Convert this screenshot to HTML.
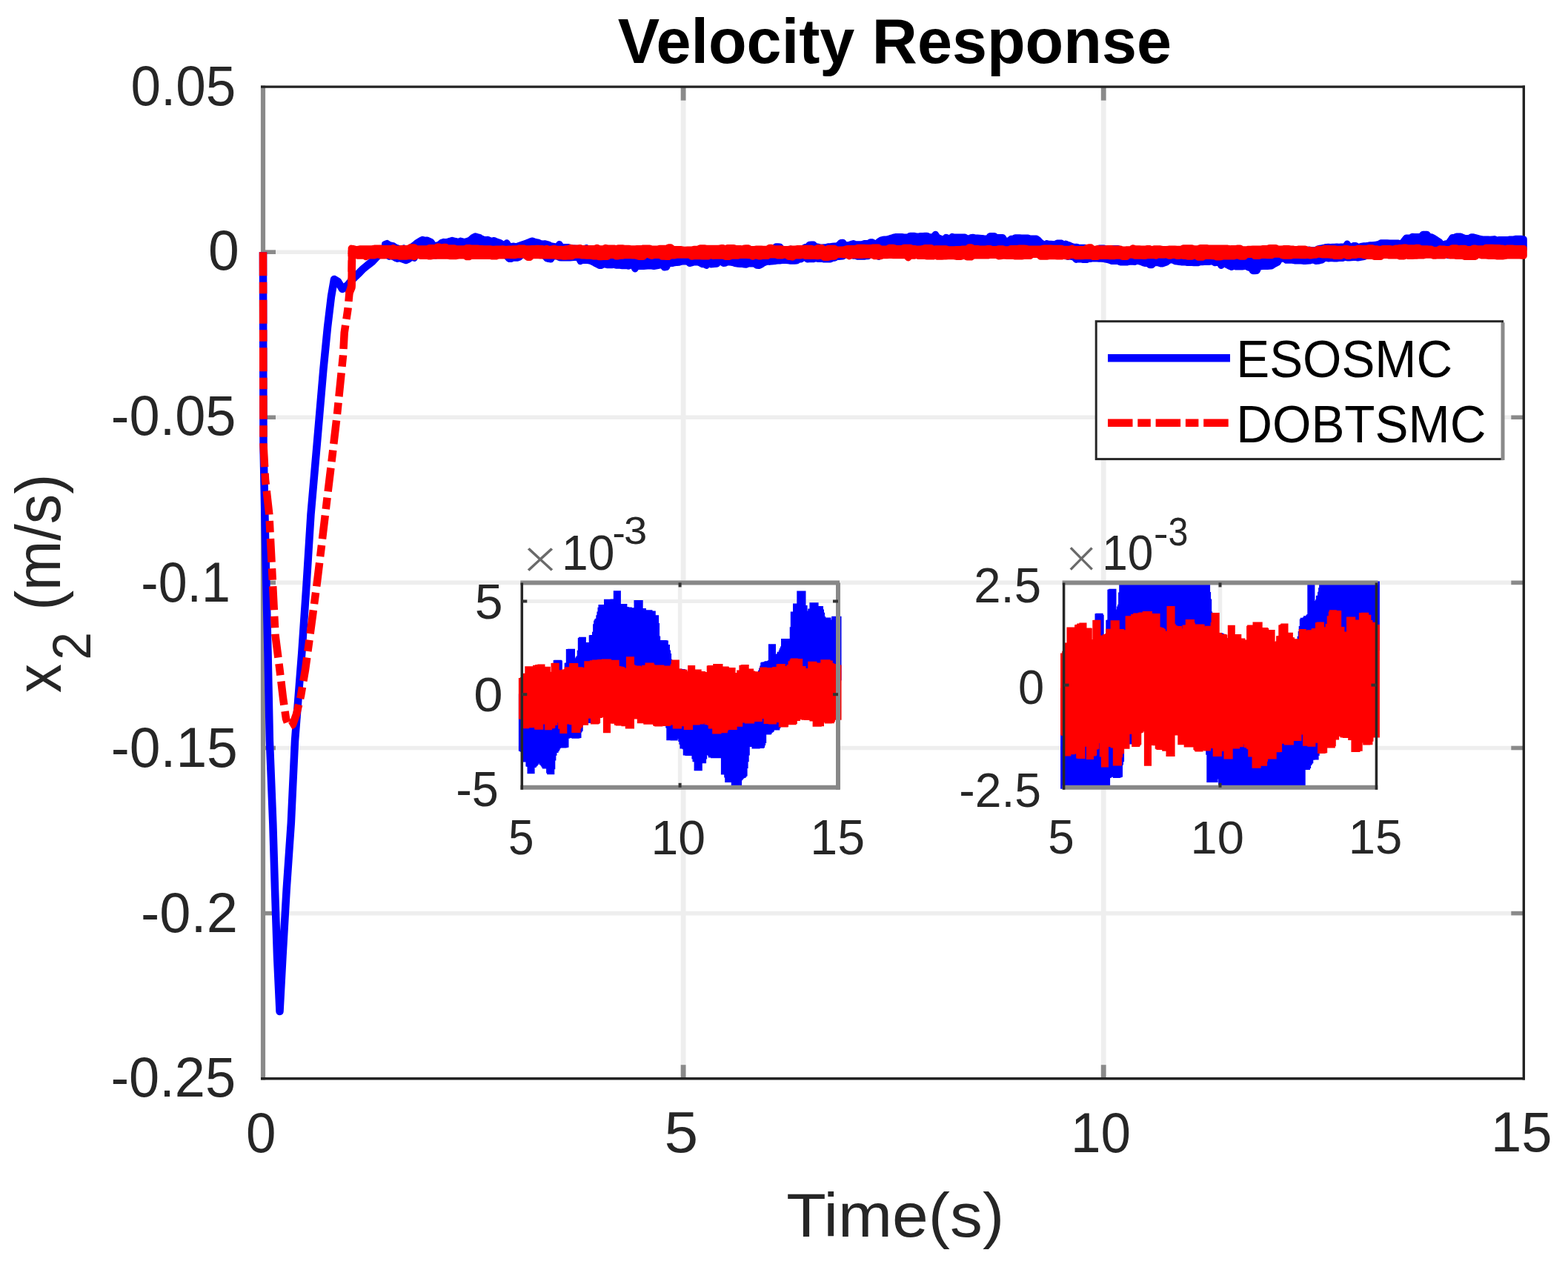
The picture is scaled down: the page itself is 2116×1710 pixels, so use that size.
<!DOCTYPE html>
<html><head><meta charset="utf-8"><title>Velocity Response</title><style>html,body{margin:0;padding:0;background:#fff;width:2116px;height:1710px;overflow:hidden}svg{display:block}</style></head><body>
<svg width="2116" height="1710" viewBox="0 0 2116 1710" font-family="'Liberation Sans', Arial, sans-serif">
<rect x="0" y="0" width="2116" height="1710" fill="#ffffff"/>
<defs>
<clipPath id="c1"><rect x="699.3" y="784.4" width="436.70000000000005" height="280.4"/></clipPath>
<clipPath id="c2"><rect x="1430.6" y="784.4" width="431.8000000000002" height="280.4"/></clipPath>
</defs>
<line x1="922.1" y1="117.1" x2="922.1" y2="1455.7" stroke="#eeeeee" stroke-width="6.8"/>
<line x1="1489.2" y1="117.1" x2="1489.2" y2="1455.7" stroke="#eeeeee" stroke-width="6.8"/>
<line x1="355.0" y1="340.2" x2="2056.3" y2="340.2" stroke="#eeeeee" stroke-width="5.6"/>
<line x1="355.0" y1="563.3" x2="2056.3" y2="563.3" stroke="#eeeeee" stroke-width="5.6"/>
<line x1="355.0" y1="786.4" x2="2056.3" y2="786.4" stroke="#eeeeee" stroke-width="5.6"/>
<line x1="355.0" y1="1009.5" x2="2056.3" y2="1009.5" stroke="#eeeeee" stroke-width="5.6"/>
<line x1="355.0" y1="1232.6" x2="2056.3" y2="1232.6" stroke="#eeeeee" stroke-width="5.6"/>
<line x1="922.1" y1="1455.7" x2="922.1" y2="1437.2" stroke="#8a8a8a" stroke-width="6.8"/>
<line x1="922.1" y1="117.1" x2="922.1" y2="135.6" stroke="#8a8a8a" stroke-width="6.8"/>
<line x1="1489.2" y1="1455.7" x2="1489.2" y2="1437.2" stroke="#8a8a8a" stroke-width="6.8"/>
<line x1="1489.2" y1="117.1" x2="1489.2" y2="135.6" stroke="#8a8a8a" stroke-width="6.8"/>
<line x1="355.0" y1="340.2" x2="372.0" y2="340.2" stroke="#8a8a8a" stroke-width="5.6"/>
<line x1="2056.3" y1="340.2" x2="2039.3" y2="340.2" stroke="#8a8a8a" stroke-width="5.6"/>
<line x1="355.0" y1="563.3" x2="372.0" y2="563.3" stroke="#8a8a8a" stroke-width="5.6"/>
<line x1="2056.3" y1="563.3" x2="2039.3" y2="563.3" stroke="#8a8a8a" stroke-width="5.6"/>
<line x1="355.0" y1="786.4" x2="372.0" y2="786.4" stroke="#8a8a8a" stroke-width="5.6"/>
<line x1="2056.3" y1="786.4" x2="2039.3" y2="786.4" stroke="#8a8a8a" stroke-width="5.6"/>
<line x1="355.0" y1="1009.5" x2="372.0" y2="1009.5" stroke="#8a8a8a" stroke-width="5.6"/>
<line x1="2056.3" y1="1009.5" x2="2039.3" y2="1009.5" stroke="#8a8a8a" stroke-width="5.6"/>
<line x1="355.0" y1="1232.6" x2="372.0" y2="1232.6" stroke="#8a8a8a" stroke-width="5.6"/>
<line x1="2056.3" y1="1232.6" x2="2039.3" y2="1232.6" stroke="#8a8a8a" stroke-width="5.6"/>
<line x1="355.0" y1="115.4" x2="355.0" y2="1457.4" stroke="#8a8a8a" stroke-width="6.2"/>
<line x1="352.0" y1="117.1" x2="2058.0" y2="117.1" stroke="#222222" stroke-width="3.4"/>
<line x1="352.0" y1="1455.7" x2="2058.0" y2="1455.7" stroke="#222222" stroke-width="3.6"/>
<line x1="2056.3" y1="115.4" x2="2056.3" y2="1457.4" stroke="#222222" stroke-width="3.4"/>
<path d="M355.0,340.3L355.5,600.0L357.5,700.0L359.3,787.0L361.5,880.0L363.9,1000.0L368.3,1111.0L371.0,1200.0L374.0,1290.0L377.5,1365.0L381.5,1290.0L386.7,1200.0L392.8,1111.0L398.0,1000.0L407.3,881.0L413.7,787.0L419.5,694.0L427.7,600.0L436.4,498.5L442.0,441.8L447.0,400.0L451.0,377.0L456.0,380.0L462.0,390.0L469.0,385.0L476.0,376.6L483.0,370.0L489.0,363.8L496.0,358.0L503.0,352.5L512.0,343.0L521.5,331.0" fill="none" stroke="#0000ff" stroke-width="10.5" stroke-linejoin="round"/>
<path d="M519.5,329.4L522.3,328.4L525.1,330.3L528.0,331.3L530.8,331.8L533.6,333.7L536.5,334.7L539.3,335.7L542.1,336.7L545.0,334.8L547.8,337.7L550.6,336.1L553.5,334.3L556.3,332.5L559.2,330.6L562.0,328.1L564.8,326.3L567.7,324.4L570.5,323.3L573.3,324.5L576.2,323.9L579.0,325.1L581.8,326.3L584.7,330.5L587.5,331.7L590.3,330.8L593.2,329.6L596.0,327.2L598.9,326.3L601.7,326.9L604.5,326.0L607.4,325.2L610.2,324.3L613.0,325.0L615.9,325.7L618.7,326.8L621.5,325.1L624.4,325.8L627.2,326.5L630.0,325.5L632.9,324.6L635.7,322.7L638.5,320.2L641.4,318.8L644.2,319.6L647.1,320.3L649.9,322.2L652.7,323.0L655.6,323.7L658.4,323.3L661.2,324.6L664.1,325.3L666.9,324.4L669.7,325.9L672.6,326.8L675.4,327.8L678.2,329.5L681.1,330.5L683.9,327.8L686.8,332.2L689.6,332.5L692.4,332.1L695.3,332.4L698.1,332.3L700.9,331.3L703.8,330.2L706.6,329.2L709.4,328.3L712.3,327.3L715.1,325.9L717.9,324.9L720.8,325.8L723.6,326.5L726.5,327.2L729.3,328.5L732.1,329.1L735.0,328.7L737.8,329.4L740.6,330.1L743.5,331.8L746.3,332.2L749.1,332.6L752.0,333.0L754.8,329.4L757.6,333.4L760.5,333.4L763.3,333.4L766.1,333.4L769.0,334.1L771.8,335.0L774.7,335.0L777.5,335.2L780.3,335.3L783.2,335.3L786.0,335.5L788.8,335.6L791.7,334.6L794.5,336.1L797.3,337.7L800.2,339.2L803.0,340.8L805.8,342.3L808.7,343.8L811.5,344.6L814.4,344.6L817.2,343.5L820.0,343.5L822.9,343.5L825.7,343.5L828.5,343.5L831.4,343.5L834.2,343.5L837.0,342.9L839.9,342.9L842.7,343.0L845.5,338.6L848.4,338.6L851.2,342.9L854.0,343.1L856.9,344.7L859.7,344.9L862.6,345.1L865.4,343.8L868.2,343.8L871.1,342.4L873.9,342.4L876.7,344.8L879.6,344.8L882.4,344.8L885.2,344.2L888.1,342.7L890.9,342.4L893.7,341.9L896.6,341.3L899.4,340.8L902.3,340.6L905.1,338.9L907.9,338.7L910.8,338.6L913.6,341.5L916.4,341.3L919.3,341.8L922.1,340.9L924.9,341.3L927.8,342.0L930.6,342.1L933.4,342.2L936.3,342.2L939.1,341.5L941.9,341.6L944.8,341.7L947.6,341.8L950.5,342.0L953.3,341.6L956.1,341.7L959.0,341.5L961.8,338.2L964.6,341.6L967.5,341.4L970.3,341.2L973.1,339.9L976.0,338.8L978.8,338.6L981.6,338.9L984.5,339.2L987.3,339.7L990.2,340.0L993.0,340.9L995.8,341.2L998.7,341.1L1001.5,341.4L1004.3,341.7L1007.2,342.0L1010.0,343.4L1012.8,343.7L1015.7,341.4L1018.5,343.7L1021.3,345.5L1024.2,344.8L1027.0,344.1L1029.8,343.0L1032.7,340.9L1035.5,339.9L1038.4,339.6L1041.2,339.3L1044.0,338.9L1046.9,332.8L1049.7,332.7L1052.5,332.9L1055.4,337.0L1058.2,336.6L1061.0,336.6L1063.9,336.6L1066.7,336.1L1069.5,337.1L1072.4,337.1L1075.2,337.0L1078.1,337.0L1080.9,337.1L1083.7,335.3L1086.6,333.5L1089.4,333.4L1092.2,330.2L1095.1,330.1L1097.9,330.1L1100.7,333.0L1103.6,333.0L1106.4,333.9L1109.2,333.9L1112.1,333.8L1114.9,333.8L1117.7,332.7L1120.6,332.7L1123.4,332.3L1126.3,332.0L1129.1,331.8L1131.9,330.5L1134.8,327.5L1137.6,327.2L1140.4,331.0L1143.3,330.8L1146.1,330.5L1148.9,329.3L1151.8,328.5L1154.6,329.8L1157.4,329.8L1160.3,329.7L1163.1,329.7L1166.0,328.6L1168.8,328.6L1171.6,328.6L1174.5,326.8L1177.3,326.8L1180.1,328.5L1183.0,328.5L1185.8,326.0L1188.6,324.1L1191.5,323.3L1194.3,322.9L1197.1,322.8L1200.0,322.0L1202.8,321.2L1205.7,320.2L1208.5,319.5L1211.3,319.5L1214.2,319.5L1217.0,319.5L1219.8,319.9L1222.7,319.9L1225.5,319.9L1228.3,318.2L1231.2,318.2L1234.0,318.2L1236.8,319.1L1239.7,319.1L1242.5,318.5L1245.3,318.4L1248.2,318.3L1251.0,318.2L1253.9,319.8L1256.7,319.7L1259.5,319.6L1262.4,316.2L1265.2,320.3L1268.0,321.4L1270.9,322.6L1273.7,323.7L1276.5,320.2L1279.4,321.3L1282.2,321.8L1285.0,319.3L1287.9,320.0L1290.7,320.0L1293.6,320.1L1296.4,320.1L1299.2,320.1L1302.1,320.1L1304.9,321.9L1307.7,321.9L1310.6,320.5L1313.4,320.2L1316.2,321.1L1319.1,321.1L1321.9,321.3L1324.7,321.5L1327.6,321.8L1330.4,322.0L1333.2,322.0L1336.1,318.4L1338.9,318.4L1341.8,318.4L1344.6,320.4L1347.4,320.4L1350.3,320.4L1353.1,320.4L1355.9,324.5L1358.8,327.2L1361.6,324.7L1364.4,322.3L1367.3,322.3L1370.1,320.8L1372.9,320.8L1375.8,320.8L1378.6,321.0L1381.5,321.0L1384.3,321.0L1387.1,321.0L1390.0,322.0L1392.8,322.0L1395.6,322.0L1398.5,322.0L1401.3,323.9L1404.1,327.0L1407.0,328.9L1409.8,330.8L1412.6,328.5L1415.5,329.3L1418.3,329.3L1421.1,329.4L1424.0,329.4L1426.8,328.0L1429.7,328.0L1432.5,328.1L1435.3,331.1L1438.2,329.1L1441.0,330.4L1443.8,331.2L1446.7,332.6L1449.5,333.4L1452.3,333.2L1455.2,333.9L1458.0,334.3L1460.8,334.3L1463.7,334.3L1466.5,334.8L1469.4,334.9L1472.2,334.9L1475.0,336.5L1477.9,336.5L1480.7,336.6L1483.5,334.9L1486.4,334.9L1489.2,335.0L1492.0,335.6L1494.9,336.0L1497.7,336.7L1500.5,335.4L1503.4,335.5L1506.2,335.5L1509.0,335.5L1511.9,338.8L1514.7,338.8L1517.6,338.9L1520.4,337.6L1523.2,337.6L1526.1,337.7L1528.9,337.7L1531.7,339.0L1534.6,339.1L1537.4,339.7L1540.2,340.4L1543.1,341.4L1545.9,342.0L1548.7,342.0L1551.6,342.0L1554.4,342.9L1557.3,342.9L1560.1,342.9L1562.9,342.9L1565.8,340.9L1568.6,340.9L1571.4,339.9L1574.3,338.9L1577.1,337.5L1579.9,336.5L1582.8,338.0L1585.6,338.4L1588.4,338.8L1591.3,337.7L1594.1,338.1L1596.9,339.5L1599.8,339.9L1602.6,340.4L1605.5,339.3L1608.3,339.3L1611.1,339.3L1614.0,340.7L1616.8,340.7L1619.6,340.7L1622.5,340.7L1625.3,340.7L1628.1,340.7L1631.0,340.4L1633.8,340.4L1636.6,341.2L1639.5,341.2L1642.3,341.2L1645.2,341.2L1648.0,341.1L1650.8,342.9L1653.7,344.0L1656.5,343.0L1659.3,344.3L1662.2,344.3L1665.0,344.3L1667.8,344.3L1670.7,346.9L1673.5,346.9L1676.3,346.9L1679.2,346.9L1682.0,345.6L1684.8,345.6L1687.7,345.6L1690.5,341.2L1693.4,341.2L1696.2,341.0L1699.0,345.9L1701.9,345.7L1704.7,345.3L1707.5,345.1L1710.4,343.9L1713.2,343.7L1716.0,343.5L1718.9,341.9L1721.7,340.8L1724.5,339.7L1727.4,338.2L1730.2,337.5L1733.1,337.5L1735.9,337.5L1738.7,337.9L1741.6,338.2L1744.4,338.2L1747.2,338.2L1750.1,338.2L1752.9,338.4L1755.7,338.4L1758.6,339.5L1761.4,339.5L1764.2,337.2L1767.1,337.1L1769.9,337.8L1772.8,337.7L1775.6,337.5L1778.4,335.8L1781.3,335.2L1784.1,334.7L1786.9,334.1L1789.8,333.4L1792.6,333.2L1795.4,333.5L1798.3,333.3L1801.1,333.2L1803.9,333.0L1806.8,333.2L1809.6,333.1L1812.4,333.0L1815.3,332.8L1818.1,329.0L1821.0,333.4L1823.8,333.3L1826.6,331.5L1829.5,331.4L1832.3,333.3L1835.1,332.9L1838.0,332.2L1840.8,331.7L1843.6,331.7L1846.5,331.3L1849.3,330.8L1852.1,330.8L1855.0,330.4L1857.8,330.0L1860.7,329.5L1863.5,327.7L1866.3,327.7L1869.2,327.7L1872.0,327.7L1874.8,327.9L1877.7,328.0L1880.5,328.0L1883.3,328.0L1886.2,328.0L1889.0,328.6L1891.8,328.6L1894.7,324.8L1897.5,321.1L1900.3,321.1L1903.2,321.1L1906.0,319.2L1908.9,319.4L1911.7,319.4L1914.5,319.4L1917.4,319.4L1920.2,316.2L1923.0,316.2L1925.9,316.2L1928.7,319.7L1931.5,319.7L1934.4,321.0L1937.2,322.9L1940.0,324.7L1942.9,326.6L1945.7,329.9L1948.6,329.9L1951.4,328.7L1954.2,328.7L1957.1,324.7L1959.9,320.4L1962.7,320.4L1965.6,319.0L1968.4,319.0L1971.2,319.0L1974.1,320.3L1976.9,321.5L1979.7,321.5L1982.6,321.5L1985.4,319.8L1988.2,319.8L1991.1,320.6L1993.9,321.4L1996.8,322.3L1999.6,322.7L2002.4,323.1L2005.3,323.1L2008.1,323.1L2010.9,323.3L2013.8,322.9L2016.6,322.6L2019.4,324.0L2022.3,323.6L2025.1,323.6L2027.9,323.6L2030.8,323.6L2033.6,323.6L2036.5,323.1L2039.3,323.1L2042.1,323.1L2045.0,322.3L2047.8,322.3L2050.6,322.3L2053.5,322.3L2056.3,322.9L2056.3,336.1L2053.5,336.1L2050.6,336.1L2047.8,335.7L2045.0,335.7L2042.1,335.7L2039.3,335.8L2036.5,335.8L2033.6,335.8L2030.8,336.5L2027.9,336.5L2025.1,336.5L2022.3,337.4L2019.4,337.7L2016.6,338.0L2013.8,342.9L2010.9,343.2L2008.1,343.2L2005.3,339.0L2002.4,338.7L1999.6,338.7L1996.8,337.9L1993.9,336.0L1991.1,335.2L1988.2,334.4L1985.4,335.2L1982.6,335.2L1979.7,338.3L1976.9,338.3L1974.1,335.3L1971.2,335.3L1968.4,336.6L1965.6,335.6L1962.7,335.6L1959.9,335.6L1957.1,339.6L1954.2,344.7L1951.4,342.0L1948.6,342.0L1945.7,342.3L1942.9,340.8L1940.0,338.8L1937.2,337.0L1934.4,335.1L1931.5,333.0L1928.7,333.0L1925.9,333.2L1923.0,333.4L1920.2,333.4L1917.4,334.9L1914.5,332.9L1911.7,332.9L1908.9,332.9L1906.0,332.9L1903.2,333.8L1900.3,333.8L1897.5,333.9L1894.7,337.6L1891.8,342.1L1889.0,342.1L1886.2,342.1L1883.3,342.1L1880.5,342.2L1877.7,342.2L1874.8,342.2L1872.0,341.3L1869.2,341.3L1866.3,341.3L1863.5,341.3L1860.7,341.1L1857.8,342.0L1855.0,342.4L1852.1,342.9L1849.3,344.6L1846.5,345.1L1843.6,345.5L1840.8,346.6L1838.0,347.1L1835.1,347.5L1832.3,348.0L1829.5,347.4L1826.6,347.6L1823.8,347.8L1821.0,347.9L1818.1,348.0L1815.3,347.3L1812.4,348.4L1809.6,348.5L1806.8,348.6L1803.9,348.9L1801.1,349.1L1798.3,348.7L1795.4,348.8L1792.6,349.0L1789.8,348.2L1786.9,348.8L1784.1,351.1L1781.3,351.7L1778.4,352.2L1775.6,352.4L1772.8,351.0L1769.9,351.2L1767.1,352.1L1764.2,352.3L1761.4,352.4L1758.6,352.4L1755.7,352.0L1752.9,352.0L1750.1,352.0L1747.2,352.0L1744.4,351.3L1741.6,351.3L1738.7,351.3L1735.9,351.3L1733.1,349.2L1730.2,349.2L1727.4,349.2L1724.5,354.0L1721.7,355.6L1718.9,357.1L1716.0,359.0L1713.2,359.2L1710.4,359.4L1707.5,359.3L1704.7,359.6L1701.9,359.8L1699.0,360.0L1696.2,365.5L1693.4,365.7L1690.5,365.7L1687.7,361.2L1684.8,361.2L1682.0,359.6L1679.2,359.6L1676.3,360.0L1673.5,360.0L1670.7,360.0L1667.8,360.0L1665.0,359.2L1662.2,360.5L1659.3,359.3L1656.5,358.0L1653.7,356.6L1650.8,355.3L1648.0,358.6L1645.2,354.2L1642.3,354.2L1639.5,354.7L1636.6,353.1L1633.8,353.1L1631.0,353.6L1628.1,353.6L1625.3,353.6L1622.5,353.8L1619.6,353.8L1616.8,354.7L1614.0,354.7L1611.1,354.7L1608.3,354.6L1605.5,354.6L1602.6,354.6L1599.8,354.1L1596.9,353.7L1594.1,353.9L1591.3,353.5L1588.4,353.1L1585.6,352.7L1582.8,351.1L1579.9,350.7L1577.1,351.7L1574.3,353.9L1571.4,354.9L1568.6,355.9L1565.8,355.9L1562.9,354.8L1560.1,354.8L1557.3,354.8L1554.4,357.7L1551.6,357.7L1548.7,355.6L1545.9,355.6L1543.1,354.9L1540.2,353.6L1537.4,352.9L1534.6,352.2L1531.7,353.4L1528.9,353.3L1526.1,353.3L1523.2,353.3L1520.4,354.1L1517.6,354.1L1514.7,354.0L1511.9,354.0L1509.0,352.6L1506.2,352.4L1503.4,352.4L1500.5,352.4L1497.7,351.4L1494.9,350.7L1492.0,350.1L1489.2,349.4L1486.4,349.3L1483.5,349.3L1480.7,349.0L1477.9,348.9L1475.0,348.9L1472.2,349.4L1469.4,349.3L1466.5,350.5L1463.7,350.4L1460.8,350.4L1458.0,349.9L1455.2,349.7L1452.3,350.4L1449.5,347.4L1446.7,346.7L1443.8,345.9L1441.0,346.5L1438.2,345.7L1435.3,345.6L1432.5,344.3L1429.7,344.3L1426.8,343.7L1424.0,343.6L1421.1,344.4L1418.3,344.8L1415.5,344.7L1412.6,344.7L1409.8,344.2L1407.0,342.9L1404.1,341.0L1401.3,339.1L1398.5,337.2L1395.6,335.2L1392.8,335.2L1390.0,335.2L1387.1,337.7L1384.3,335.8L1381.5,335.7L1378.6,335.1L1375.8,335.1L1372.9,335.1L1370.1,339.0L1367.3,335.0L1364.4,335.0L1361.6,337.4L1358.8,339.9L1355.9,339.9L1353.1,337.5L1350.3,337.5L1347.4,335.8L1344.6,335.8L1341.8,340.2L1338.9,340.2L1336.1,340.2L1333.2,336.5L1330.4,336.5L1327.6,336.3L1324.7,335.9L1321.9,336.5L1319.1,336.3L1316.2,336.3L1313.4,335.1L1310.6,335.1L1307.7,335.8L1304.9,335.8L1302.1,335.8L1299.2,335.8L1296.4,335.0L1293.6,335.0L1290.7,335.0L1287.9,334.9L1285.0,334.9L1282.2,337.4L1279.4,340.0L1276.5,339.3L1273.7,338.1L1270.9,337.0L1268.0,340.9L1265.2,339.8L1262.4,338.7L1259.5,333.6L1256.7,333.7L1253.9,333.2L1251.0,333.3L1248.2,332.5L1245.3,332.6L1242.5,332.7L1239.7,334.1L1236.8,334.1L1234.0,334.1L1231.2,334.1L1228.3,334.6L1225.5,334.5L1222.7,334.5L1219.8,334.8L1217.0,334.0L1214.2,334.0L1211.3,334.8L1208.5,334.8L1205.7,334.8L1202.8,335.6L1200.0,337.6L1197.1,340.5L1194.3,341.3L1191.5,343.1L1188.6,343.9L1185.8,346.4L1183.0,344.6L1180.1,343.4L1177.3,343.4L1174.5,343.4L1171.6,345.7L1168.8,345.7L1166.0,346.2L1163.1,346.2L1160.3,346.2L1157.4,346.3L1154.6,345.2L1151.8,345.2L1148.9,343.7L1146.1,343.9L1143.3,344.1L1140.4,344.3L1137.6,346.0L1134.8,346.2L1131.9,346.4L1129.1,346.7L1126.3,348.2L1123.4,348.5L1120.6,349.9L1117.7,349.9L1114.9,349.9L1112.1,350.0L1109.2,349.4L1106.4,349.5L1103.6,349.5L1100.7,348.8L1097.9,349.7L1095.1,349.8L1092.2,349.8L1089.4,349.9L1086.6,346.4L1083.7,348.1L1080.9,349.9L1078.1,350.0L1075.2,352.1L1072.4,352.2L1069.5,352.2L1066.7,352.2L1063.9,351.9L1061.0,351.5L1058.2,351.6L1055.4,351.6L1052.5,351.9L1049.7,352.0L1046.9,352.4L1044.0,352.7L1041.2,353.1L1038.4,353.4L1035.5,352.8L1032.7,354.1L1029.8,355.3L1027.0,357.4L1024.2,358.6L1021.3,358.3L1018.5,356.3L1015.7,356.0L1012.8,356.1L1010.0,355.8L1007.2,357.2L1004.3,356.9L1001.5,356.6L998.7,356.4L995.8,356.2L993.0,355.9L990.2,355.0L987.3,354.3L984.5,354.0L981.6,353.8L978.8,355.2L976.0,355.4L973.1,352.9L970.3,353.1L967.5,356.3L964.6,356.5L961.8,356.7L959.0,356.9L956.1,354.9L953.3,358.4L950.5,356.8L947.6,356.7L944.8,355.1L941.9,354.1L939.1,354.0L936.3,354.0L933.4,354.9L930.6,355.6L927.8,353.2L924.9,353.1L922.1,353.0L919.3,353.2L916.4,354.2L913.6,354.4L910.8,354.7L907.9,355.4L905.1,355.6L902.3,355.7L899.4,360.6L896.6,361.1L893.7,357.4L890.9,357.9L888.1,358.5L885.2,359.0L882.4,359.5L879.6,359.0L876.7,359.0L873.9,359.0L871.1,359.2L868.2,359.6L865.4,359.6L862.6,359.4L859.7,359.2L856.9,363.0L854.0,357.5L851.2,357.9L848.4,359.3L845.5,358.7L842.7,358.7L839.9,358.7L837.0,358.2L834.2,358.2L831.4,358.2L828.5,357.4L825.7,357.8L822.9,357.8L820.0,357.8L817.2,357.2L814.4,356.5L811.5,358.4L808.7,358.4L805.8,356.8L803.0,355.4L800.2,353.9L797.3,352.4L794.5,351.8L791.7,351.6L788.8,351.5L786.0,351.3L783.2,352.6L780.3,347.1L777.5,347.6L774.7,347.5L771.8,347.8L769.0,348.0L766.1,348.0L763.3,348.0L760.5,348.1L757.6,348.1L754.8,347.7L752.0,346.1L749.1,345.7L746.3,345.3L743.5,350.0L740.6,349.6L737.8,348.9L735.0,345.7L732.1,342.5L729.3,341.7L726.5,341.6L723.6,340.8L720.8,340.1L717.9,339.4L715.1,340.7L712.3,341.7L709.4,342.7L706.6,343.7L703.8,344.4L700.9,347.2L698.1,348.2L695.3,348.2L692.4,348.0L689.6,349.6L686.8,349.4L683.9,346.1L681.1,343.8L678.2,342.9L675.4,342.0L672.6,339.7L669.7,338.8L666.9,337.9L664.1,336.6L661.2,335.9L658.4,335.5L655.6,338.5L652.7,337.8L649.9,334.2L647.1,333.5L644.2,334.5L641.4,333.7L638.5,334.7L635.7,336.6L632.9,338.5L630.0,340.5L627.2,342.2L624.4,341.5L621.5,340.8L618.7,340.1L615.9,340.7L613.0,340.0L610.2,339.2L607.4,339.2L604.5,340.2L601.7,341.1L598.9,342.0L596.0,343.4L593.2,344.3L590.3,344.2L587.5,345.1L584.7,343.9L581.8,342.7L579.0,341.2L576.2,340.0L573.3,338.7L570.5,336.9L567.7,338.7L564.8,340.5L562.0,342.3L559.2,348.5L556.3,347.0L553.5,348.8L550.6,350.6L547.8,351.7L545.0,350.7L542.1,349.7L539.3,348.7L536.5,349.4L533.6,348.4L530.8,346.7L528.0,345.7L525.1,346.4L522.3,344.5L519.5,344.1Z" fill="#0000ff" stroke="#0000ff" stroke-width="9" stroke-linejoin="round"/>
<path d="M355.0,340.3L355.5,600.0L358.0,647.0L363.3,694.0L368.0,787.0L371.5,857.0L377.5,904.0L382.0,942.0L386.0,970.0L390.0,981.0L395.0,978.0L400.0,964.0L406.0,939.0L412.0,904.0L418.4,857.0L427.8,787.0L433.5,740.0L441.8,670.0L448.8,612.0L455.0,559.0L463.0,480.0L464.7,449.0L469.5,417.0L471.5,395.0L474.5,385.0L475.0,341.0" fill="none" stroke="#ff0000" stroke-width="10.5" stroke-dasharray="32 8.5 15.5 8.5" stroke-linejoin="round"/>
<path d="M470.5,397L474.5,388L475,338" fill="none" stroke="#ff0000" stroke-width="10.5" stroke-linejoin="round"/>
<path d="M474.1,335.1L476.9,335.5L479.8,336.4L482.6,336.4L485.4,335.8L488.3,335.8L491.1,335.8L493.9,335.8L496.8,335.7L499.6,335.7L502.4,335.7L505.3,335.0L508.1,335.0L511.0,335.0L513.8,335.0L516.6,335.6L519.5,335.6L522.3,335.6L525.1,335.6L528.0,335.5L530.8,334.6L533.6,336.0L536.5,336.0L539.3,336.0L542.1,335.5L545.0,335.5L547.8,335.5L550.6,335.5L553.5,333.7L556.3,333.7L559.2,333.7L562.0,335.7L564.8,335.8L567.7,335.8L570.5,335.8L573.3,335.8L576.2,335.8L579.0,334.6L581.8,334.6L584.7,334.6L587.5,334.6L590.3,332.9L593.2,332.9L596.0,334.3L598.9,333.2L601.7,333.2L604.5,335.3L607.4,334.7L610.2,334.7L613.0,334.7L615.9,335.8L618.7,335.8L621.5,335.8L624.4,335.8L627.2,335.6L630.0,334.5L632.9,334.5L635.7,335.0L638.5,335.0L641.4,334.9L644.2,334.9L647.1,335.4L649.9,335.4L652.7,335.8L655.6,335.8L658.4,335.8L661.2,335.8L664.1,336.3L666.9,336.3L669.7,336.0L672.6,336.0L675.4,336.0L678.2,335.8L681.1,336.3L683.9,336.3L686.8,336.1L689.6,336.1L692.4,335.8L695.3,335.8L698.1,335.8L700.9,334.9L703.8,334.9L706.6,334.9L709.4,335.8L712.3,335.8L715.1,335.8L717.9,335.6L720.8,335.6L723.6,335.3L726.5,335.3L729.3,335.6L732.1,335.6L735.0,336.4L737.8,335.3L740.6,336.2L743.5,336.2L746.3,335.6L749.1,335.6L752.0,336.2L754.8,336.2L757.6,336.2L760.5,336.6L763.3,335.8L766.1,335.8L769.0,334.6L771.8,334.6L774.7,335.1L777.5,335.1L780.3,335.0L783.2,334.5L786.0,335.8L788.8,335.4L791.7,335.4L794.5,335.4L797.3,335.4L800.2,335.6L803.0,335.2L805.8,334.2L808.7,335.8L811.5,335.8L814.4,335.8L817.2,334.3L820.0,334.9L822.9,334.9L825.7,334.9L828.5,334.9L831.4,335.6L834.2,334.8L837.0,334.8L839.9,334.8L842.7,335.2L845.5,335.2L848.4,335.2L851.2,335.7L854.0,335.7L856.9,335.7L859.7,335.6L862.6,335.6L865.4,335.6L868.2,334.9L871.1,334.9L873.9,334.9L876.7,334.9L879.6,335.9L882.4,335.9L885.2,335.9L888.1,335.9L890.9,335.2L893.7,335.2L896.6,335.2L899.4,335.2L902.3,333.8L905.1,333.8L907.9,336.1L910.8,336.4L913.6,336.5L916.4,336.5L919.3,336.5L922.1,337.2L924.9,337.2L927.8,337.1L930.6,337.1L933.4,337.1L936.3,336.3L939.1,336.3L941.9,336.3L944.8,334.8L947.6,334.8L950.5,334.8L953.3,335.2L956.1,335.2L959.0,335.2L961.8,335.2L964.6,335.2L967.5,335.2L970.3,335.2L973.1,334.6L976.0,334.6L978.8,335.8L981.6,334.5L984.5,334.5L987.3,334.5L990.2,334.4L993.0,335.4L995.8,335.4L998.7,335.4L1001.5,336.1L1004.3,335.1L1007.2,334.8L1010.0,334.8L1012.8,336.5L1015.7,336.5L1018.5,336.5L1021.3,335.9L1024.2,335.9L1027.0,335.9L1029.8,336.2L1032.7,336.2L1035.5,336.2L1038.4,334.3L1041.2,334.3L1044.0,335.7L1046.9,335.7L1049.7,335.7L1052.5,335.7L1055.4,336.0L1058.2,336.4L1061.0,336.4L1063.9,336.4L1066.7,335.8L1069.5,335.9L1072.4,335.9L1075.2,335.6L1078.1,335.6L1080.9,335.6L1083.7,335.6L1086.6,335.3L1089.4,335.3L1092.2,335.3L1095.1,335.3L1097.9,336.2L1100.7,336.2L1103.6,334.5L1106.4,334.5L1109.2,334.5L1112.1,336.8L1114.9,336.7L1117.7,335.3L1120.6,335.3L1123.4,335.3L1126.3,335.3L1129.1,337.0L1131.9,337.0L1134.8,337.0L1137.6,337.0L1140.4,336.4L1143.3,335.5L1146.1,335.5L1148.9,335.5L1151.8,335.5L1154.6,335.6L1157.4,334.2L1160.3,334.2L1163.1,334.2L1166.0,334.2L1168.8,334.6L1171.6,334.6L1174.5,334.6L1177.3,334.1L1180.1,334.1L1183.0,334.1L1185.8,334.1L1188.6,336.0L1191.5,336.0L1194.3,336.0L1197.1,336.0L1200.0,334.3L1202.8,334.3L1205.7,334.3L1208.5,335.1L1211.3,335.6L1214.2,335.6L1217.0,335.6L1219.8,334.2L1222.7,334.2L1225.5,334.2L1228.3,334.2L1231.2,335.4L1234.0,335.4L1236.8,336.2L1239.7,336.0L1242.5,336.0L1245.3,335.5L1248.2,334.5L1251.0,334.5L1253.9,334.5L1256.7,334.5L1259.5,336.7L1262.4,335.7L1265.2,335.7L1268.0,335.7L1270.9,335.7L1273.7,335.7L1276.5,335.7L1279.4,336.8L1282.2,336.8L1285.0,336.8L1287.9,336.8L1290.7,336.5L1293.6,336.5L1296.4,336.5L1299.2,336.0L1302.1,336.0L1304.9,336.0L1307.7,333.7L1310.6,333.7L1313.4,335.3L1316.2,335.5L1319.1,335.5L1321.9,336.0L1324.7,336.0L1327.6,336.0L1330.4,336.0L1333.2,335.5L1336.1,335.5L1338.9,336.6L1341.8,336.6L1344.6,336.6L1347.4,335.7L1350.3,335.7L1353.1,335.7L1355.9,336.7L1358.8,336.7L1361.6,336.7L1364.4,335.4L1367.3,335.4L1370.1,335.4L1372.9,335.4L1375.8,334.9L1378.6,334.9L1381.5,334.9L1384.3,335.2L1387.1,335.9L1390.0,335.9L1392.8,335.9L1395.6,336.1L1398.5,336.1L1401.3,336.1L1404.1,336.1L1407.0,335.3L1409.8,335.0L1412.6,335.0L1415.5,335.0L1418.3,335.0L1421.1,335.2L1424.0,335.2L1426.8,335.2L1429.7,335.2L1432.5,335.2L1435.3,336.2L1438.2,336.2L1441.0,336.2L1443.8,336.2L1446.7,335.1L1449.5,336.3L1452.3,336.5L1455.2,336.5L1458.0,336.5L1460.8,336.5L1463.7,336.5L1466.5,334.6L1469.4,333.7L1472.2,333.7L1475.0,336.3L1477.9,336.3L1480.7,335.6L1483.5,335.7L1486.4,335.7L1489.2,335.7L1492.0,335.7L1494.9,335.6L1497.7,335.6L1500.5,335.6L1503.4,336.0L1506.2,336.0L1509.0,336.0L1511.9,336.0L1514.7,337.1L1517.6,337.1L1520.4,336.8L1523.2,336.8L1526.1,336.8L1528.9,334.7L1531.7,335.8L1534.6,335.8L1537.4,335.8L1540.2,336.0L1543.1,336.0L1545.9,336.0L1548.7,335.5L1551.6,335.5L1554.4,337.2L1557.3,335.8L1560.1,335.8L1562.9,335.8L1565.8,335.8L1568.6,336.4L1571.4,336.4L1574.3,336.4L1577.1,336.1L1579.9,336.1L1582.8,336.1L1585.6,336.1L1588.4,336.2L1591.3,336.2L1594.1,336.2L1596.9,334.8L1599.8,334.7L1602.6,334.7L1605.5,334.7L1608.3,334.7L1611.1,335.8L1614.0,335.8L1616.8,335.8L1619.6,334.4L1622.5,334.4L1625.3,334.4L1628.1,334.4L1631.0,335.1L1633.8,335.1L1636.6,335.1L1639.5,335.1L1642.3,334.9L1645.2,334.9L1648.0,334.9L1650.8,334.9L1653.7,335.1L1656.5,335.1L1659.3,335.9L1662.2,335.4L1665.0,335.4L1667.8,335.4L1670.7,334.9L1673.5,334.9L1676.3,336.8L1679.2,336.8L1682.0,336.8L1684.8,336.2L1687.7,336.2L1690.5,336.1L1693.4,336.1L1696.2,336.0L1699.0,336.0L1701.9,336.0L1704.7,335.5L1707.5,335.5L1710.4,335.5L1713.2,334.5L1716.0,334.5L1718.9,334.5L1721.7,334.5L1724.5,336.1L1727.4,336.1L1730.2,336.1L1733.1,335.5L1735.9,335.5L1738.7,335.5L1741.6,335.9L1744.4,335.9L1747.2,336.6L1750.1,336.6L1752.9,336.0L1755.7,336.0L1758.6,336.0L1761.4,336.0L1764.2,337.4L1767.1,337.4L1769.9,338.0L1772.8,338.0L1775.6,338.0L1778.4,336.3L1781.3,336.5L1784.1,336.5L1786.9,335.3L1789.8,335.4L1792.6,335.4L1795.4,335.8L1798.3,335.8L1801.1,335.8L1803.9,336.3L1806.8,336.3L1809.6,336.3L1812.4,336.3L1815.3,335.4L1818.1,335.5L1821.0,336.2L1823.8,336.2L1826.6,336.2L1829.5,336.2L1832.3,335.3L1835.1,335.3L1838.0,335.5L1840.8,335.5L1843.6,335.5L1846.5,334.8L1849.3,334.8L1852.1,334.8L1855.0,335.7L1857.8,335.7L1860.7,336.3L1863.5,336.5L1866.3,335.4L1869.2,335.4L1872.0,335.4L1874.8,335.4L1877.7,336.0L1880.5,336.0L1883.3,335.1L1886.2,335.1L1889.0,334.4L1891.8,334.4L1894.7,334.1L1897.5,334.1L1900.3,334.8L1903.2,334.8L1906.0,334.8L1908.9,334.8L1911.7,334.2L1914.5,334.2L1917.4,335.7L1920.2,335.7L1923.0,335.7L1925.9,335.7L1928.7,336.1L1931.5,336.1L1934.4,337.5L1937.2,337.5L1940.0,337.5L1942.9,335.8L1945.7,336.0L1948.6,336.0L1951.4,336.4L1954.2,336.4L1957.1,336.4L1959.9,334.7L1962.7,334.7L1965.6,334.7L1968.4,336.3L1971.2,335.3L1974.1,335.3L1976.9,335.3L1979.7,336.4L1982.6,336.4L1985.4,336.4L1988.2,335.0L1991.1,335.0L1993.9,335.8L1996.8,335.8L1999.6,335.8L2002.4,335.8L2005.3,334.2L2008.1,334.2L2010.9,334.2L2013.8,334.2L2016.6,334.5L2019.4,334.5L2022.3,334.5L2025.1,335.0L2027.9,335.0L2030.8,336.2L2033.6,335.1L2036.5,335.1L2039.3,335.1L2042.1,335.1L2045.0,335.5L2047.8,335.4L2050.6,335.4L2053.5,335.4L2056.3,335.4L2056.3,345.2L2053.5,345.2L2050.6,345.0L2047.8,345.0L2045.0,345.0L2042.1,345.0L2039.3,345.1L2036.5,345.1L2033.6,345.1L2030.8,345.6L2027.9,345.9L2025.1,345.9L2022.3,345.9L2019.4,345.9L2016.6,345.6L2013.8,345.6L2010.9,345.4L2008.1,345.4L2005.3,345.0L2002.4,345.0L1999.6,345.0L1996.8,344.0L1993.9,344.0L1991.1,346.5L1988.2,346.5L1985.4,346.5L1982.6,346.6L1979.7,346.6L1976.9,346.6L1974.1,345.5L1971.2,345.5L1968.4,345.5L1965.6,345.5L1962.7,345.1L1959.9,345.1L1957.1,345.1L1954.2,344.0L1951.4,344.0L1948.6,345.0L1945.7,345.0L1942.9,344.9L1940.0,344.9L1937.2,345.2L1934.4,345.2L1931.5,344.3L1928.7,344.3L1925.9,344.3L1923.0,344.3L1920.2,345.1L1917.4,345.1L1914.5,345.1L1911.7,345.2L1908.9,345.2L1906.0,345.5L1903.2,345.5L1900.3,345.5L1897.5,344.6L1894.7,346.0L1891.8,346.0L1889.0,346.0L1886.2,344.9L1883.3,344.9L1880.5,344.9L1877.7,344.9L1874.8,345.0L1872.0,344.4L1869.2,344.4L1866.3,344.4L1863.5,346.4L1860.7,346.4L1857.8,346.4L1855.0,346.4L1852.1,345.4L1849.3,345.4L1846.5,345.4L1843.6,345.1L1840.8,345.1L1838.0,343.7L1835.1,343.7L1832.3,343.7L1829.5,344.5L1826.6,344.5L1823.8,344.5L1821.0,345.6L1818.1,345.6L1815.3,344.1L1812.4,344.1L1809.6,345.5L1806.8,345.5L1803.9,345.5L1801.1,345.5L1798.3,344.4L1795.4,344.4L1792.6,344.0L1789.8,344.0L1786.9,344.0L1784.1,344.0L1781.3,343.3L1778.4,343.3L1775.6,344.3L1772.8,344.3L1769.9,344.9L1767.1,344.9L1764.2,344.3L1761.4,344.8L1758.6,344.8L1755.7,344.8L1752.9,344.6L1750.1,344.6L1747.2,344.6L1744.4,344.6L1741.6,345.3L1738.7,345.3L1735.9,345.3L1733.1,345.3L1730.2,344.8L1727.4,343.3L1724.5,343.3L1721.7,343.3L1718.9,343.3L1716.0,344.8L1713.2,344.8L1710.4,344.8L1707.5,344.6L1704.7,344.6L1701.9,344.6L1699.0,345.6L1696.2,345.6L1693.4,345.6L1690.5,343.4L1687.7,343.4L1684.8,343.4L1682.0,343.4L1679.2,346.2L1676.3,346.2L1673.5,346.2L1670.7,344.9L1667.8,344.9L1665.0,345.9L1662.2,345.9L1659.3,345.9L1656.5,345.9L1653.7,345.9L1650.8,345.9L1648.0,346.7L1645.2,347.1L1642.3,347.1L1639.5,345.8L1636.6,345.8L1633.8,345.6L1631.0,345.6L1628.1,345.6L1625.3,345.6L1622.5,347.3L1619.6,347.3L1616.8,347.3L1614.0,345.1L1611.1,345.1L1608.3,346.2L1605.5,346.2L1602.6,346.2L1599.8,345.5L1596.9,345.5L1594.1,344.8L1591.3,345.5L1588.4,345.5L1585.6,344.4L1582.8,344.4L1579.9,345.2L1577.1,345.2L1574.3,343.6L1571.4,344.2L1568.6,344.2L1565.8,344.2L1562.9,343.8L1560.1,345.3L1557.3,344.7L1554.4,344.7L1551.6,344.7L1548.7,344.7L1545.9,345.4L1543.1,345.4L1540.2,345.3L1537.4,345.3L1534.6,345.3L1531.7,345.3L1528.9,344.2L1526.1,344.2L1523.2,344.2L1520.4,346.5L1517.6,346.5L1514.7,346.5L1511.9,345.2L1509.0,345.2L1506.2,345.2L1503.4,345.8L1500.5,345.7L1497.7,345.7L1494.9,345.2L1492.0,345.5L1489.2,345.5L1486.4,345.5L1483.5,345.5L1480.7,346.4L1477.9,346.4L1475.0,346.4L1472.2,345.5L1469.4,345.5L1466.5,345.5L1463.7,345.5L1460.8,345.7L1458.0,345.7L1455.2,345.7L1452.3,345.7L1449.5,344.6L1446.7,344.6L1443.8,344.6L1441.0,346.1L1438.2,345.4L1435.3,345.4L1432.5,346.1L1429.7,346.1L1426.8,346.1L1424.0,345.8L1421.1,345.8L1418.3,345.8L1415.5,345.8L1412.6,346.2L1409.8,346.2L1407.0,346.2L1404.1,346.2L1401.3,343.5L1398.5,343.5L1395.6,343.5L1392.8,343.5L1390.0,345.5L1387.1,345.5L1384.3,345.5L1381.5,345.5L1378.6,346.1L1375.8,346.1L1372.9,346.1L1370.1,346.1L1367.3,345.4L1364.4,345.4L1361.6,345.4L1358.8,345.4L1355.9,345.3L1353.1,345.3L1350.3,345.7L1347.4,345.9L1344.6,344.4L1341.8,344.4L1338.9,344.4L1336.1,344.4L1333.2,345.0L1330.4,345.0L1327.6,345.0L1324.7,345.0L1321.9,344.7L1319.1,345.0L1316.2,345.0L1313.4,345.0L1310.6,347.0L1307.7,347.0L1304.9,347.0L1302.1,345.6L1299.2,345.6L1296.4,346.5L1293.6,346.5L1290.7,346.5L1287.9,345.8L1285.0,345.8L1282.2,345.8L1279.4,345.8L1276.5,346.0L1273.7,346.0L1270.9,346.3L1268.0,346.3L1265.2,346.3L1262.4,345.0L1259.5,346.1L1256.7,346.1L1253.9,346.1L1251.0,346.0L1248.2,345.6L1245.3,345.6L1242.5,345.6L1239.7,345.6L1236.8,344.2L1234.0,345.2L1231.2,345.2L1228.3,345.2L1225.5,347.9L1222.7,344.7L1219.8,344.7L1217.0,344.7L1214.2,344.7L1211.3,344.7L1208.5,344.7L1205.7,344.7L1202.8,344.6L1200.0,344.6L1197.1,344.7L1194.3,344.7L1191.5,344.7L1188.6,345.7L1185.8,345.7L1183.0,345.7L1180.1,345.7L1177.3,344.2L1174.5,344.2L1171.6,344.2L1168.8,344.2L1166.0,344.0L1163.1,344.5L1160.3,344.5L1157.4,344.3L1154.6,344.6L1151.8,344.6L1148.9,344.6L1146.1,345.9L1143.3,343.9L1140.4,343.9L1137.6,343.9L1134.8,343.6L1131.9,343.6L1129.1,343.6L1126.3,346.3L1123.4,346.3L1120.6,346.6L1117.7,347.4L1114.9,347.4L1112.1,347.4L1109.2,345.3L1106.4,345.3L1103.6,345.7L1100.7,345.5L1097.9,345.5L1095.1,345.5L1092.2,345.5L1089.4,345.6L1086.6,345.6L1083.7,343.7L1080.9,345.0L1078.1,345.0L1075.2,345.0L1072.4,345.0L1069.5,347.3L1066.7,346.4L1063.9,346.4L1061.0,344.0L1058.2,344.0L1055.4,345.1L1052.5,345.1L1049.7,345.1L1046.9,343.9L1044.0,343.9L1041.2,343.9L1038.4,343.9L1035.5,345.6L1032.7,345.6L1029.8,345.3L1027.0,346.0L1024.2,346.0L1021.3,345.1L1018.5,345.1L1015.7,346.3L1012.8,344.7L1010.0,344.7L1007.2,344.6L1004.3,344.6L1001.5,344.6L998.7,344.4L995.8,345.3L993.0,345.3L990.2,345.3L987.3,345.3L984.5,346.4L981.6,346.4L978.8,346.4L976.0,345.3L973.1,345.3L970.3,345.3L967.5,345.3L964.6,345.2L961.8,345.5L959.0,344.1L956.1,345.9L953.3,345.9L950.5,345.9L947.6,346.0L944.8,345.7L941.9,345.7L939.1,345.7L936.3,345.7L933.4,346.2L930.6,344.3L927.8,344.3L924.9,344.3L922.1,344.2L919.3,344.2L916.4,344.2L913.6,344.2L910.8,344.9L907.9,344.9L905.1,344.9L902.3,346.6L899.4,346.6L896.6,346.3L893.7,346.3L890.9,344.6L888.1,344.6L885.2,344.6L882.4,344.6L879.6,345.4L876.7,344.4L873.9,343.3L871.1,343.3L868.2,346.5L865.4,346.5L862.6,346.5L859.7,345.6L856.9,344.7L854.0,344.9L851.2,344.7L848.4,344.7L845.5,344.7L842.7,344.7L839.9,345.3L837.0,345.3L834.2,345.9L831.4,345.9L828.5,344.4L825.7,344.4L822.9,344.4L820.0,346.4L817.2,346.4L814.4,346.4L811.5,346.8L808.7,346.8L805.8,346.0L803.0,346.0L800.2,346.0L797.3,345.2L794.5,345.2L791.7,345.2L788.8,345.1L786.0,345.1L783.2,344.3L780.3,344.3L777.5,344.3L774.7,344.3L771.8,346.0L769.0,346.0L766.1,346.0L763.3,346.2L760.5,346.2L757.6,345.8L754.8,345.8L752.0,345.8L749.1,345.0L746.3,345.0L743.5,345.0L740.6,345.0L737.8,344.9L735.0,344.9L732.1,344.9L729.3,344.9L726.5,344.8L723.6,344.8L720.8,344.8L717.9,344.8L715.1,347.6L712.3,347.6L709.4,345.2L706.6,344.0L703.8,344.0L700.9,344.0L698.1,344.0L695.3,344.7L692.4,344.7L689.6,344.7L686.8,344.5L683.9,344.5L681.1,344.9L678.2,344.9L675.4,344.9L672.6,344.9L669.7,346.0L666.9,346.0L664.1,346.0L661.2,345.4L658.4,345.4L655.6,345.4L652.7,345.4L649.9,345.6L647.1,345.6L644.2,345.5L641.4,345.5L638.5,345.5L635.7,345.5L632.9,346.8L630.0,346.8L627.2,345.1L624.4,345.1L621.5,345.1L618.7,345.1L615.9,345.7L613.0,345.7L610.2,345.7L607.4,345.7L604.5,345.3L601.7,345.3L598.9,345.3L596.0,345.3L593.2,345.3L590.3,345.3L587.5,345.3L584.7,345.3L581.8,346.0L579.0,346.0L576.2,345.4L573.3,345.4L570.5,345.4L567.7,345.4L564.8,344.4L562.0,344.4L559.2,346.8L556.3,345.7L553.5,345.7L550.6,345.8L547.8,346.3L545.0,346.3L542.1,346.3L539.3,346.3L536.5,345.4L533.6,345.4L530.8,345.7L528.0,345.7L525.1,344.6L522.3,344.6L519.5,345.0L516.6,345.0L513.8,345.0L511.0,343.9L508.1,343.9L505.3,344.9L502.4,344.9L499.6,344.9L496.8,344.9L493.9,346.8L491.1,345.2L488.3,345.2L485.4,345.2L482.6,345.2L479.8,344.4L476.9,344.4L474.1,344.9Z" fill="#ff0000" stroke="#ff0000" stroke-width="9" stroke-linejoin="round"/>
<rect x="1479.2" y="433.7" width="548.3" height="185.90000000000003" fill="#ffffff" stroke="#262626" stroke-width="3"/>
<line x1="2028.0" y1="435.2" x2="2028.0" y2="621.1" stroke="#8a8a8a" stroke-width="5"/>
<line x1="1495" y1="483.3" x2="1660" y2="483.3" stroke="#0000ff" stroke-width="10.5"/>
<line x1="1495" y1="570.7" x2="1660" y2="570.7" stroke="#ff0000" stroke-width="10.5" stroke-dasharray="33.5 6.8 17.5 6.8"/>
<text transform="translate(1668.24 508.70) scale(0.9568 1)" font-size="70.39" fill="#000000">ESOSMC</text>
<text transform="translate(1668.24 596.79) scale(0.9525 1)" font-size="70.81" fill="#000000">DOBTSMC</text>
<rect x="704.3" y="786.4" width="426.70000000000005" height="276.4" fill="#ffffff"/>
<line x1="917.6" y1="786.4" x2="917.6" y2="1062.8" stroke="#eeeeee" stroke-width="5.5"/>
<line x1="704.3" y1="811.5" x2="1131.0" y2="811.5" stroke="#eeeeee" stroke-width="5"/>
<line x1="704.3" y1="937.2" x2="1131.0" y2="937.2" stroke="#eeeeee" stroke-width="5"/>
<g clip-path="url(#c1)">
<path d="M704.3,940.9L705.4,940.9L705.4,943.2L706.4,943.2L706.4,947.3L707.5,947.3L707.5,947.8L708.6,947.8L708.6,948.2L709.6,948.2L709.6,948.6L710.7,948.6L710.7,944.6L711.8,944.6L711.8,945.1L712.8,945.1L712.8,945.5L713.9,945.5L713.9,945.9L715.0,945.9L715.0,947.2L716.0,947.2L716.0,945.2L717.1,945.2L717.1,945.6L718.2,945.6L718.2,944.3L719.2,944.3L719.2,925.9L720.3,925.9L720.3,945.1L721.4,945.1L721.4,943.8L722.4,943.8L722.4,942.6L723.5,942.6L723.5,935.4L724.6,935.4L724.6,929.4L725.6,929.4L725.6,928.2L726.7,928.2L726.7,929.8L727.8,929.8L727.8,931.3L728.8,931.3L728.8,934.5L729.9,934.5L729.9,936.0L731.0,936.0L731.0,941.3L732.0,941.3L732.0,942.8L733.1,942.8L733.1,942.5L734.2,942.5L734.2,944.0L735.2,944.0L735.2,945.6L736.3,945.6L736.3,947.2L737.4,947.2L737.4,955.2L738.4,955.2L738.4,956.8L739.5,956.8L739.5,943.8L740.6,943.8L740.6,957.1L741.6,957.1L741.6,967.2L742.7,967.2L742.7,963.1L743.8,963.1L743.8,959.3L744.8,959.3L744.8,952.8L745.9,952.8L745.9,940.8L747.0,940.8L747.0,935.7L748.0,935.7L748.0,933.8L749.1,933.8L749.1,931.9L750.2,931.9L750.2,930.0L751.2,930.0L751.2,895.4L752.3,895.4L752.3,895.2L753.4,895.2L753.4,896.1L754.4,896.1L754.4,919.2L755.5,919.2L755.5,917.1L756.6,917.1L756.6,916.9L757.6,916.9L757.6,916.7L758.7,916.7L758.7,913.9L759.8,913.9L759.8,919.8L760.8,919.8L760.8,919.6L761.9,919.6L761.9,919.4L763.0,919.4L763.0,919.1L764.0,919.1L764.0,919.4L765.1,919.4L765.1,909.4L766.2,909.4L766.2,899.3L767.2,899.3L767.2,899.1L768.3,899.1L768.3,880.6L769.4,880.6L769.4,880.4L770.4,880.4L770.4,880.2L771.5,880.2L771.5,896.6L772.6,896.6L772.6,896.4L773.6,896.4L773.6,901.8L774.7,901.8L774.7,901.6L775.8,901.6L775.8,901.4L776.8,901.4L776.8,901.2L777.9,901.2L777.9,894.9L779.0,894.9L779.0,894.7L780.0,894.7L780.0,892.8L781.1,892.8L781.1,891.0L782.2,891.0L782.2,889.7L783.2,889.7L783.2,882.3L784.3,882.3L784.3,865.4L785.4,865.4L785.4,864.2L786.4,864.2L786.4,885.2L787.5,885.2L787.5,884.0L788.6,884.0L788.6,882.7L789.6,882.7L789.6,875.8L790.7,875.8L790.7,871.4L791.8,871.4L791.8,878.6L792.8,878.6L792.8,878.4L793.9,878.4L793.9,878.2L795.0,878.2L795.0,878.0L796.0,878.0L796.0,872.1L797.1,872.1L797.1,871.9L798.2,871.9L798.2,871.6L799.2,871.6L799.2,861.7L800.3,861.7L800.3,861.5L801.4,861.5L801.4,871.3L802.4,871.3L802.4,871.1L803.5,871.1L803.5,857.3L804.6,857.3L804.6,846.7L805.6,846.7L805.6,842.1L806.7,842.1L806.7,839.9L807.8,839.9L807.8,839.3L808.8,839.3L808.8,834.7L809.9,834.7L809.9,830.1L811.0,830.1L811.0,824.3L812.0,824.3L812.0,820.4L813.1,820.4L813.1,820.4L814.2,820.4L814.2,820.4L815.2,820.4L815.2,820.4L816.3,820.4L816.3,822.6L817.4,822.6L817.4,822.6L818.4,822.6L818.4,822.6L819.5,822.6L819.5,813.2L820.6,813.2L820.6,813.2L821.6,813.2L821.6,813.2L822.7,813.2L822.7,818.5L823.8,818.5L823.8,818.5L824.8,818.5L824.8,815.0L825.9,815.0L825.9,814.4L827.0,814.4L827.0,813.8L828.0,813.8L828.0,813.1L829.1,813.1L829.1,822.3L830.2,822.3L830.2,821.7L831.2,821.7L831.2,821.1L832.3,821.1L832.3,801.8L833.4,801.8L833.4,825.3L834.4,825.3L834.4,831.6L835.5,831.6L835.5,837.8L836.6,837.8L836.6,844.1L837.6,844.1L837.6,824.7L838.7,824.7L838.7,831.0L839.8,831.0L839.8,833.3L840.8,833.3L840.8,819.5L841.9,819.5L841.9,823.4L843.0,823.4L843.0,823.4L844.0,823.4L844.0,824.0L845.1,824.0L845.1,824.0L846.2,824.0L846.2,824.0L847.2,824.0L847.2,824.0L848.3,824.0L848.3,834.3L849.4,834.3L849.4,834.3L850.4,834.3L850.4,826.4L851.5,826.4L851.5,824.7L852.6,824.7L852.6,829.6L853.6,829.6L853.6,829.6L854.7,829.6L854.7,830.9L855.8,830.9L855.8,832.1L856.8,832.1L856.8,833.3L857.9,833.3L857.9,834.6L859.0,834.6L859.0,834.6L860.0,834.6L860.0,814.5L861.1,814.5L861.1,814.5L862.2,814.5L862.2,814.5L863.2,814.5L863.2,825.5L864.3,825.5L864.3,825.5L865.4,825.5L865.4,825.5L866.4,825.5L866.4,825.5L867.5,825.5L867.5,849.0L868.6,849.0L868.6,863.7L869.6,863.7L869.6,849.9L870.7,849.9L870.7,836.1L871.8,836.1L871.8,836.1L872.8,836.1L872.8,827.8L873.9,827.8L873.9,827.8L875.0,827.8L875.0,827.8L876.0,827.8L876.0,829.1L877.1,829.1L877.1,829.1L878.2,829.1L878.2,829.1L879.2,829.1L879.2,829.1L880.3,829.1L880.3,834.8L881.4,834.8L881.4,834.7L882.4,834.7L882.4,834.7L883.5,834.7L883.5,834.7L884.6,834.7L884.6,845.4L885.6,845.4L885.6,863.0L886.7,863.0L886.7,873.7L887.8,873.7L887.8,884.3L888.8,884.3L888.8,871.4L889.9,871.4L889.9,875.8L891.0,875.8L891.0,876.0L892.0,876.0L892.0,876.3L893.1,876.3L893.1,876.5L894.2,876.5L894.2,868.5L895.2,868.5L895.2,868.7L896.3,868.7L896.3,869.0L897.4,869.0L897.4,885.7L898.4,885.7L898.4,874.6L899.5,874.6L899.5,882.1L900.6,882.1L900.6,886.5L901.6,886.5L901.6,894.2L902.7,894.2L902.7,898.6L903.8,898.6L903.8,897.5L904.8,897.5L904.8,901.4L905.9,901.4L905.9,903.9L907.0,903.9L907.0,903.9L908.0,903.9L908.0,904.1L909.1,904.1L909.1,907.0L910.2,907.0L910.2,907.3L911.2,907.3L911.2,907.5L912.3,907.5L912.3,916.1L913.4,916.1L913.4,916.4L914.4,916.4L914.4,916.6L915.5,916.6L915.5,907.2L916.6,907.2L916.6,907.5L917.7,907.5L917.6,907.7L918.7,907.7L918.7,911.5L919.8,911.5L919.8,913.7L920.9,913.7L920.9,917.5L921.9,917.5L921.9,910.2L923.0,910.2L923.0,910.5L924.1,910.5L924.1,910.7L925.1,910.7L925.1,910.9L926.2,910.9L926.2,929.2L927.3,929.2L927.3,929.4L928.3,929.4L928.3,929.6L929.4,929.6L929.4,922.5L930.5,922.5L930.5,922.7L931.5,922.7L931.5,922.9L932.6,922.9L932.6,923.1L933.7,923.1L933.7,930.6L934.7,930.6L934.7,930.8L935.8,930.8L935.8,934.5L936.9,934.5L936.9,938.3L937.9,938.3L937.9,943.8L939.0,943.8L939.0,947.6L940.1,947.6L940.1,947.6L941.1,947.6L941.1,947.6L942.2,947.6L942.2,952.2L943.3,952.2L943.3,952.2L944.3,952.2L944.3,952.2L945.4,952.2L945.4,952.2L946.5,952.2L946.5,941.3L947.5,941.3L947.5,941.3L948.6,941.3L948.6,935.6L949.7,935.6L949.7,930.0L950.7,930.0L950.7,922.0L951.8,922.0L951.8,916.4L952.9,916.4L952.9,924.8L953.9,924.8L953.9,927.2L955.0,927.2L955.0,929.5L956.1,929.5L956.1,923.2L957.1,923.2L957.1,925.6L958.2,925.6L958.2,933.3L959.3,933.3L959.3,935.7L960.3,935.7L960.3,938.0L961.4,938.0L961.4,932.0L962.5,932.0L962.5,932.0L963.5,932.0L963.5,932.0L964.6,932.0L964.6,940.2L965.7,940.2L965.7,940.2L966.7,940.2L966.7,940.2L967.8,940.2L967.8,940.2L968.9,940.2L968.9,940.2L969.9,940.2L969.9,940.2L971.0,940.2L971.0,938.2L972.1,938.2L972.1,938.2L973.1,938.2L973.1,943.0L974.2,943.0L974.2,943.0L975.3,943.0L975.3,943.0L976.3,943.0L976.3,943.0L977.4,943.0L977.4,942.0L978.5,942.0L978.5,952.1L979.5,952.1L979.5,958.5L980.6,958.5L980.6,952.9L981.7,952.9L981.7,960.2L982.7,960.2L982.7,960.2L983.8,960.2L983.8,960.2L984.9,960.2L984.9,960.3L985.9,960.3L985.9,974.8L987.0,974.8L987.0,974.8L988.1,974.8L988.1,974.8L989.1,974.8L989.1,974.8L990.2,974.8L990.2,967.3L991.3,967.3L991.3,967.3L992.3,967.3L992.3,967.3L993.4,967.3L993.4,942.9L994.5,942.9L994.5,942.9L995.5,942.9L995.5,941.7L996.6,941.7L996.6,969.2L997.7,969.2L997.7,968.0L998.7,968.0L998.7,966.0L999.8,966.0L999.8,964.8L1000.9,964.8L1000.9,958.1L1001.9,958.1L1001.9,956.9L1003.0,956.9L1003.0,955.6L1004.1,955.6L1004.1,946.8L1005.1,946.8L1005.1,940.8L1006.2,940.8L1006.2,934.5L1007.3,934.5L1007.3,925.7L1008.3,925.7L1008.3,921.9L1009.4,921.9L1009.4,921.9L1010.5,921.9L1010.5,921.9L1011.5,921.9L1011.5,924.4L1012.6,924.4L1012.6,925.8L1013.7,925.8L1013.7,925.8L1014.7,925.8L1014.7,926.0L1015.8,926.0L1015.8,926.0L1016.9,926.0L1016.9,927.0L1017.9,927.0L1017.9,927.0L1019.0,927.0L1019.0,933.4L1020.1,933.4L1020.1,933.4L1021.1,933.4L1021.1,920.5L1022.2,920.5L1022.2,919.7L1023.3,919.7L1023.3,923.9L1024.3,923.9L1024.3,923.1L1025.4,923.1L1025.4,922.2L1026.5,922.2L1026.5,912.4L1027.5,912.4L1027.5,909.3L1028.6,909.3L1028.6,906.1L1029.7,906.1L1029.7,903.0L1030.7,903.0L1030.7,898.7L1031.8,898.7L1031.8,897.9L1032.9,897.9L1032.9,899.3L1033.9,899.3L1033.9,898.5L1035.0,898.5L1035.0,897.6L1036.1,897.6L1036.1,896.8L1037.1,896.8L1037.1,897.6L1038.2,897.6L1038.2,897.0L1039.3,897.0L1039.3,896.4L1040.3,896.4L1040.3,895.7L1041.4,895.7L1041.4,873.8L1042.5,873.8L1042.5,898.8L1043.5,898.8L1043.5,898.2L1044.6,898.2L1044.6,888.2L1045.7,888.2L1045.7,887.6L1046.7,887.6L1046.7,898.3L1047.8,898.3L1047.8,895.8L1048.9,895.8L1048.9,892.0L1049.9,892.0L1049.9,889.5L1051.0,889.5L1051.0,889.3L1052.1,889.3L1052.1,886.8L1053.1,886.8L1053.1,884.3L1054.2,884.3L1054.2,884.5L1055.3,884.5L1055.3,882.0L1056.3,882.0L1056.3,879.5L1057.4,879.5L1057.4,877.0L1058.5,877.0L1058.5,866.6L1059.5,866.6L1059.5,866.6L1060.6,866.6L1060.6,866.6L1061.7,866.6L1061.7,866.6L1062.7,866.6L1062.7,868.0L1063.8,868.0L1063.8,868.2L1064.9,868.2L1064.9,868.2L1065.9,868.2L1065.9,868.2L1067.0,868.2L1067.0,868.2L1068.1,868.2L1068.1,872.0L1069.1,872.0L1069.1,872.0L1070.2,872.0L1070.2,850.7L1071.3,850.7L1071.3,829.9L1072.3,829.9L1072.3,829.9L1073.4,829.9L1073.4,829.9L1074.5,829.9L1074.5,818.9L1075.5,818.9L1075.5,819.9L1076.6,819.9L1076.6,819.9L1077.7,819.9L1077.7,819.9L1078.7,819.9L1078.7,819.9L1079.8,819.9L1079.8,801.9L1080.9,801.9L1080.9,801.9L1081.9,801.9L1081.9,801.9L1083.0,801.9L1083.0,821.6L1084.1,821.6L1084.1,821.6L1085.1,821.6L1085.1,829.0L1086.2,829.0L1086.2,839.5L1087.3,839.5L1087.3,850.0L1088.3,850.0L1088.3,860.5L1089.4,860.5L1089.4,879.1L1090.5,879.1L1090.5,879.1L1091.5,879.1L1091.5,872.3L1092.6,872.3L1092.6,872.3L1093.7,872.3L1093.7,849.7L1094.7,849.7L1094.7,825.9L1095.8,825.9L1095.8,825.9L1096.9,825.9L1096.9,817.7L1097.9,817.7L1097.9,817.7L1099.0,817.7L1099.0,817.7L1100.1,817.7L1100.1,825.2L1101.1,825.2L1101.1,831.7L1102.2,831.7L1102.2,831.7L1103.3,831.7L1103.3,831.7L1104.3,831.7L1104.3,822.5L1105.4,822.5L1105.4,822.5L1106.5,822.5L1106.5,826.9L1107.5,826.9L1107.5,831.3L1108.6,831.3L1108.6,836.4L1109.7,836.4L1109.7,838.3L1110.7,838.3L1110.7,840.9L1111.8,840.9L1111.8,840.9L1112.9,840.9L1112.9,840.9L1113.9,840.9L1113.9,841.8L1115.0,841.8L1115.0,839.9L1116.1,839.9L1116.1,838.0L1117.1,838.0L1117.1,845.8L1118.2,845.8L1118.2,843.9L1119.3,843.9L1119.3,844.0L1120.3,844.0L1120.3,844.0L1121.4,844.0L1121.4,844.0L1122.5,844.0L1122.5,844.0L1123.5,844.0L1123.5,840.9L1124.6,840.9L1124.6,840.9L1125.7,840.9L1125.7,840.9L1126.7,840.9L1126.7,836.2L1127.8,836.2L1127.8,836.2L1128.9,836.2L1128.9,836.2L1129.9,836.2L1129.9,836.2L1131.0,836.2L1131.0,840.0L1131.0,840.0L1131.0,914.0L1131.0,914.0L1131.0,914.0L1129.9,914.0L1129.9,914.0L1128.9,914.0L1128.9,911.6L1127.8,911.6L1127.8,911.6L1126.7,911.6L1126.7,911.6L1125.7,911.6L1125.7,912.3L1124.6,912.3L1124.6,912.3L1123.5,912.3L1123.5,912.3L1122.5,912.3L1122.5,916.2L1121.4,916.2L1121.4,916.2L1120.3,916.2L1120.3,916.2L1119.3,916.2L1119.3,921.2L1118.2,921.2L1118.2,923.1L1117.1,923.1L1117.1,925.0L1116.1,925.0L1116.1,952.2L1115.0,952.2L1115.0,954.0L1113.9,954.0L1113.9,954.0L1112.9,954.0L1112.9,930.4L1111.8,930.4L1111.8,928.6L1110.7,928.6L1110.7,928.6L1109.7,928.6L1109.7,924.2L1108.6,924.2L1108.6,913.5L1107.5,913.5L1107.5,909.1L1106.5,909.1L1106.5,904.7L1105.4,904.7L1105.4,908.9L1104.3,908.9L1104.3,908.9L1103.3,908.9L1103.3,926.5L1102.2,926.5L1102.2,926.5L1101.1,926.5L1101.1,909.6L1100.1,909.6L1100.1,909.6L1099.0,909.6L1099.0,916.9L1097.9,916.9L1097.9,911.0L1096.9,911.0L1096.9,911.0L1095.8,911.0L1095.8,911.0L1094.7,911.0L1094.7,933.7L1093.7,933.7L1093.7,962.5L1092.6,962.5L1092.6,947.4L1091.5,947.4L1091.5,947.4L1090.5,947.4L1090.5,948.8L1089.4,948.8L1089.4,940.5L1088.3,940.5L1088.3,929.5L1087.3,929.5L1087.3,919.0L1086.2,919.0L1086.2,908.5L1085.1,908.5L1085.1,896.7L1084.1,896.7L1084.1,896.7L1083.0,896.7L1083.0,897.8L1081.9,897.8L1081.9,898.6L1080.9,898.6L1080.9,898.6L1079.8,898.6L1079.8,907.2L1078.7,907.2L1078.7,896.1L1077.7,896.1L1077.7,896.1L1076.6,896.1L1076.6,896.1L1075.5,896.1L1075.5,896.1L1074.5,896.1L1074.5,901.4L1073.4,901.4L1073.4,901.4L1072.3,901.4L1072.3,901.4L1071.3,901.4L1071.3,922.8L1070.2,922.8L1070.2,947.9L1069.1,947.9L1069.1,947.9L1068.1,947.9L1068.1,947.9L1067.0,947.9L1067.0,947.9L1065.9,947.9L1065.9,948.3L1064.9,948.3L1064.9,948.3L1063.8,948.3L1063.8,948.3L1062.7,948.3L1062.7,943.6L1061.7,943.6L1061.7,943.6L1060.6,943.6L1060.6,943.6L1059.5,943.6L1059.5,943.6L1058.5,943.6L1058.5,942.1L1057.4,942.1L1057.4,947.3L1056.3,947.3L1056.3,949.8L1055.3,949.8L1055.3,952.3L1054.2,952.3L1054.2,962.1L1053.1,962.1L1053.1,964.6L1052.1,964.6L1052.1,967.1L1051.0,967.1L1051.0,973.4L1049.9,973.4L1049.9,976.0L1048.9,976.0L1048.9,978.5L1047.8,978.5L1047.8,981.0L1046.7,981.0L1046.7,978.0L1045.7,978.0L1045.7,978.6L1044.6,978.6L1044.6,979.9L1043.5,979.9L1043.5,980.5L1042.5,980.5L1042.5,981.1L1041.4,981.1L1041.4,977.0L1040.3,977.0L1040.3,983.1L1039.3,983.1L1039.3,983.8L1038.2,983.8L1038.2,984.4L1037.1,984.4L1037.1,986.3L1036.1,986.3L1036.1,987.1L1035.0,987.1L1035.0,985.0L1033.9,985.0L1033.9,985.9L1032.9,985.9L1032.9,986.7L1031.8,986.7L1031.8,982.2L1030.7,982.2L1030.7,985.3L1029.7,985.3L1029.7,998.5L1028.6,998.5L1028.6,1001.7L1027.5,1001.7L1027.5,1004.8L1026.5,1004.8L1026.5,1005.6L1025.4,1005.6L1025.4,998.2L1024.3,998.2L1024.3,999.1L1023.3,999.1L1023.3,1004.2L1022.2,1004.2L1022.2,1005.1L1021.1,1005.1L1021.1,1005.9L1020.1,1005.9L1020.1,1005.9L1019.0,1005.9L1019.0,1003.4L1017.9,1003.4L1017.9,1003.4L1016.9,1003.4L1016.9,1003.4L1015.8,1003.4L1015.8,1003.4L1014.7,1003.4L1014.7,999.5L1013.7,999.5L1013.7,999.5L1012.6,999.5L1012.6,999.5L1011.5,999.5L1011.5,999.5L1010.5,999.5L1010.5,987.6L1009.4,987.6L1009.4,987.6L1008.3,987.6L1008.3,987.6L1007.3,987.6L1007.3,1014.9L1006.2,1014.9L1006.2,1023.7L1005.1,1023.7L1005.1,1032.5L1004.1,1032.5L1004.1,1043.0L1003.0,1043.0L1003.0,1044.2L1001.9,1044.2L1001.9,1045.5L1000.9,1045.5L1000.9,1044.9L999.8,1044.9L999.8,1046.2L998.7,1046.2L998.7,1047.4L997.7,1047.4L997.7,1048.7L996.6,1048.7L996.6,1072.8L995.5,1072.8L995.5,1072.8L994.5,1072.8L994.5,1072.8L993.4,1072.8L993.4,1055.5L992.3,1055.5L992.3,1055.5L991.3,1055.5L991.3,1046.2L990.2,1046.2L990.2,1046.2L989.1,1046.2L989.1,1048.5L988.1,1048.5L988.1,1048.5L987.0,1048.5L987.0,1048.5L985.9,1048.5L985.9,1048.5L984.9,1048.5L984.9,1044.3L983.8,1044.3L983.8,1051.4L982.7,1051.4L982.7,1044.9L981.7,1044.9L981.7,1037.6L980.6,1037.6L980.6,1029.5L979.5,1029.5L979.5,1022.3L978.5,1022.3L978.5,1040.9L977.4,1040.9L977.4,1016.3L976.3,1016.3L976.3,1016.3L975.3,1016.3L975.3,1018.8L974.2,1018.8L974.2,1010.0L973.1,1010.0L973.1,1010.0L972.1,1010.0L972.1,1012.5L971.0,1012.5L971.0,1012.5L969.9,1012.5L969.9,1012.5L968.9,1012.5L968.9,1013.6L967.8,1013.6L967.8,1013.6L966.7,1013.6L966.7,1018.7L965.7,1018.7L965.7,1018.7L964.6,1018.7L964.6,1018.7L963.5,1018.7L963.5,1018.1L962.5,1018.1L962.5,1018.1L961.4,1018.1L961.4,1018.1L960.3,1018.1L960.3,1015.7L959.3,1015.7L959.3,1013.0L958.2,1013.0L958.2,1014.3L957.1,1014.3L957.1,1012.3L956.1,1012.3L956.1,1009.9L955.0,1009.9L955.0,1007.6L953.9,1007.6L953.9,998.6L952.9,998.6L952.9,996.2L951.8,996.2L951.8,1001.9L950.7,1001.9L950.7,1014.5L949.7,1014.5L949.7,1020.1L948.6,1020.1L948.6,1025.8L947.5,1025.8L947.5,1025.8L946.5,1025.8L946.5,1019.1L945.4,1019.1L945.4,1019.1L944.3,1019.1L944.3,1019.1L943.3,1019.1L943.3,1035.7L942.2,1035.7L942.2,1035.7L941.1,1035.7L941.1,1023.7L940.1,1023.7L940.1,1023.7L939.0,1023.7L939.0,1019.9L937.9,1019.9L937.9,1012.4L936.9,1012.4L936.9,1008.6L935.8,1008.6L935.8,1004.9L934.7,1004.9L934.7,1011.3L933.7,1011.3L933.7,1011.1L932.6,1011.1L932.6,1010.9L931.5,1010.9L931.5,1010.7L930.5,1010.7L930.5,1015.6L929.4,1015.6L929.4,1015.3L928.3,1015.3L928.3,1015.1L927.3,1015.1L927.3,1014.9L926.2,1014.9L926.2,1006.8L925.1,1006.8L925.1,1006.0L924.1,1006.0L924.1,1005.8L923.0,1005.8L923.0,1005.9L921.9,1005.9L921.9,1000.3L920.9,1000.3L920.9,996.5L919.8,996.5L919.8,992.8L918.7,992.8L918.7,988.9L917.6,988.9L917.7,988.6L916.6,988.6L916.6,988.4L915.5,988.4L915.5,986.5L914.4,986.5L914.4,986.3L913.4,986.3L913.4,986.0L912.3,986.0L912.3,988.8L911.2,988.8L911.2,988.6L910.2,988.6L910.2,994.9L909.1,994.9L909.1,994.6L908.0,994.6L908.0,994.4L907.0,994.4L907.0,991.9L905.9,991.9L905.9,990.8L904.8,990.8L904.8,994.8L903.8,994.8L903.8,977.9L902.7,977.9L902.7,973.5L901.6,973.5L901.6,969.1L900.6,969.1L900.6,972.5L899.5,972.5L899.5,968.1L898.4,968.1L898.4,967.8L897.4,967.8L897.4,960.2L896.3,960.2L896.3,960.0L895.2,960.0L895.2,956.7L894.2,956.7L894.2,956.5L893.1,956.5L893.1,960.7L892.0,960.7L892.0,962.8L891.0,962.8L891.0,962.5L889.9,962.5L889.9,962.3L888.8,962.3L888.8,959.9L887.8,959.9L887.8,952.2L886.7,952.2L886.7,941.5L885.6,941.5L885.6,930.8L884.6,930.8L884.6,920.1L883.5,920.1L883.5,909.1L882.4,909.1L882.4,909.1L881.4,909.1L881.4,909.1L880.3,909.1L880.3,923.0L879.2,923.0L879.2,912.1L878.2,912.1L878.2,911.8L877.1,911.8L877.1,908.5L876.0,908.5L876.0,908.5L875.0,908.5L875.0,908.5L873.9,908.5L873.9,930.4L872.8,930.4L872.8,907.6L871.8,907.6L871.8,907.6L870.7,907.6L870.7,921.4L869.6,921.4L869.6,935.3L868.6,935.3L868.6,935.7L867.5,935.7L867.5,921.9L866.4,921.9L866.4,921.9L865.4,921.9L865.4,912.3L864.3,912.3L864.3,912.3L863.2,912.3L863.2,937.4L862.2,937.4L862.2,937.4L861.1,937.4L861.1,937.4L860.0,937.4L860.0,916.6L859.0,916.6L859.0,916.6L857.9,916.6L857.9,915.3L856.8,915.3L856.8,913.0L855.8,913.0L855.8,916.5L854.7,916.5L854.7,915.3L853.6,915.3L853.6,915.3L852.6,915.3L852.6,908.2L851.5,908.2L851.5,908.2L850.4,908.2L850.4,912.3L849.4,912.3L849.4,912.3L848.3,912.3L848.3,912.3L847.2,912.3L847.2,912.3L846.2,912.3L846.2,907.9L845.1,907.9L845.1,907.9L844.0,907.9L844.0,907.9L843.0,907.9L843.0,907.4L841.9,907.4L841.9,907.4L840.8,907.4L840.8,921.2L839.8,921.2L839.8,936.2L838.7,936.2L838.7,931.9L837.6,931.9L837.6,925.6L836.6,925.6L836.6,919.3L835.5,919.3L835.5,941.0L834.4,941.0L834.4,934.7L833.4,934.7L833.4,928.5L832.3,928.5L832.3,899.9L831.2,899.9L831.2,900.5L830.2,900.5L830.2,897.8L829.1,897.8L829.1,898.4L828.0,898.4L828.0,893.8L827.0,893.8L827.0,894.4L825.9,894.4L825.9,895.0L824.8,895.0L824.8,902.8L823.8,902.8L823.8,902.8L822.7,902.8L822.7,902.8L821.6,902.8L821.6,902.8L820.6,902.8L820.6,905.9L819.5,905.9L819.5,905.2L818.4,905.2L818.4,905.2L817.4,905.2L817.4,906.5L816.3,906.5L816.3,902.2L815.2,902.2L815.2,902.2L814.2,902.2L814.2,906.6L813.1,906.6L813.1,906.6L812.0,906.6L812.0,906.6L811.0,906.6L811.0,911.2L809.9,911.2L809.9,922.6L808.8,922.6L808.8,938.7L807.8,938.7L807.8,943.3L806.7,943.3L806.7,953.6L805.6,953.6L805.6,958.2L804.6,958.2L804.6,972.0L803.5,972.0L803.5,962.1L802.4,962.1L802.4,955.0L801.4,955.0L801.4,955.2L800.3,955.2L800.3,955.4L799.2,955.4L799.2,968.0L798.2,968.0L798.2,968.2L797.1,968.2L797.1,970.8L796.0,970.8L796.0,971.0L795.0,971.0L795.0,971.2L793.9,971.2L793.9,971.4L792.8,971.4L792.8,965.2L791.8,965.2L791.8,965.4L790.7,965.4L790.7,956.7L789.6,956.7L789.6,958.0L788.6,958.0L788.6,959.2L787.5,959.2L787.5,960.5L786.4,960.5L786.4,969.8L785.4,969.8L785.4,971.1L784.3,971.1L784.3,972.3L783.2,972.3L783.2,973.7L782.2,973.7L782.2,982.2L781.1,982.2L781.1,984.1L780.0,984.1L780.0,991.5L779.0,991.5L779.0,991.7L777.9,991.7L777.9,992.0L776.8,992.0L776.8,992.2L775.8,992.2L775.8,989.1L774.7,989.1L774.7,989.3L773.6,989.3L773.6,989.5L772.6,989.5L772.6,985.4L771.5,985.4L771.5,990.9L770.4,990.9L770.4,991.1L769.4,991.1L769.4,991.3L768.3,991.3L768.3,991.5L767.2,991.5L767.2,971.9L766.2,971.9L766.2,981.9L765.1,981.9L765.1,992.0L764.0,992.0L764.0,992.2L763.0,992.2L763.0,1004.3L761.9,1004.3L761.9,1004.5L760.8,1004.5L760.8,1004.7L759.8,1004.7L759.8,1004.9L758.7,1004.9L758.7,1003.0L757.6,1003.0L757.6,1001.0L756.6,1001.0L756.6,1001.2L755.5,1001.2L755.5,1001.4L754.4,1001.4L754.4,1003.3L753.4,1003.3L753.4,1003.5L752.3,1003.5L752.3,1005.8L751.2,1005.8L751.2,1007.7L750.2,1007.7L750.2,1009.6L749.1,1009.6L749.1,1011.4L748.0,1011.4L748.0,1008.3L747.0,1008.3L747.0,1015.2L745.9,1015.2L745.9,1022.1L744.8,1022.1L744.8,1033.8L743.8,1033.8L743.8,1040.7L742.7,1040.7L742.7,1039.1L741.6,1039.1L741.6,1027.7L740.6,1027.7L740.6,1026.1L739.5,1026.1L739.5,1026.5L738.4,1026.5L738.4,1025.0L737.4,1025.0L737.4,1032.9L736.3,1032.9L736.3,1031.3L735.2,1031.3L735.2,1029.8L734.2,1029.8L734.2,1028.2L733.1,1028.2L733.1,1027.4L732.0,1027.4L732.0,1025.8L731.0,1025.8L731.0,1020.4L729.9,1020.4L729.9,1016.6L728.8,1016.6L728.8,1015.0L727.8,1015.0L727.8,1013.5L726.7,1013.5L726.7,1021.5L725.6,1021.5L725.6,1022.7L724.6,1022.7L724.6,1008.6L723.5,1008.6L723.5,1009.8L722.4,1009.8L722.4,1027.6L721.4,1027.6L721.4,1028.9L720.3,1028.9L720.3,1030.1L719.2,1030.1L719.2,1031.4L718.2,1031.4L718.2,1019.8L717.1,1019.8L717.1,1039.8L716.0,1039.8L716.0,1030.6L715.0,1030.6L715.0,1030.1L713.9,1030.1L713.9,1020.9L712.8,1020.9L712.8,1015.5L711.8,1015.5L711.8,1015.1L710.7,1015.1L710.7,1014.6L709.6,1014.6L709.6,1020.2L708.6,1020.2L708.6,1024.1L707.5,1024.1L707.5,1010.2L706.4,1010.2L706.4,1009.8L705.4,1009.8L705.4,1009.3L704.3,1009.3Z" fill="#0000ff" stroke="#0000ff" stroke-width="9" stroke-linejoin="miter"/>
<path d="M704.3,919.6L705.4,919.6L705.4,919.6L706.4,919.6L706.4,918.4L707.5,918.4L707.5,918.4L708.6,918.4L708.6,918.4L709.6,918.4L709.6,913.2L710.7,913.2L710.7,913.2L711.8,913.2L711.8,913.3L712.8,913.3L712.8,903.7L713.9,903.7L713.9,903.8L715.0,903.8L715.0,903.8L716.0,903.8L716.0,906.5L717.1,906.5L717.1,906.5L718.2,906.5L718.2,906.4L719.2,906.4L719.2,906.1L720.3,906.1L720.3,906.0L721.4,906.0L721.4,906.0L722.4,906.0L722.4,905.9L723.5,905.9L723.5,902.2L724.6,902.2L724.6,902.2L725.6,902.2L725.6,910.0L726.7,910.0L726.7,901.5L727.8,901.5L727.8,901.6L728.8,901.6L728.8,901.6L729.9,901.6L729.9,901.0L731.0,901.0L731.0,907.6L732.0,907.6L732.0,907.7L733.1,907.7L733.1,907.8L734.2,907.8L734.2,912.5L735.2,912.5L735.2,905.8L736.3,905.8L736.3,904.2L737.4,904.2L737.4,904.3L738.4,904.3L738.4,915.2L739.5,915.2L739.5,915.3L740.6,915.3L740.6,915.3L741.6,915.3L741.6,911.5L742.7,911.5L742.7,911.5L743.8,911.5L743.8,911.2L744.8,911.2L744.8,913.0L745.9,913.0L745.9,912.7L747.0,912.7L747.0,912.3L748.0,912.3L748.0,899.4L749.1,899.4L749.1,899.3L750.2,899.3L750.2,908.8L751.2,908.8L751.2,908.7L752.3,908.7L752.3,908.7L753.4,908.7L753.4,908.7L754.4,908.7L754.4,910.7L755.5,910.7L755.5,912.9L756.6,912.9L756.6,912.9L757.6,912.9L757.6,912.9L758.7,912.9L758.7,909.3L759.8,909.3L759.8,910.1L760.8,910.1L760.8,910.1L761.9,910.1L761.9,908.0L763.0,908.0L763.0,908.0L764.0,908.0L764.0,908.0L765.1,908.0L765.1,907.5L766.2,907.5L766.2,904.7L767.2,904.7L767.2,904.7L768.3,904.7L768.3,904.7L769.4,904.7L769.4,904.7L770.4,904.7L770.4,910.6L771.5,910.6L771.5,910.6L772.6,910.6L772.6,899.5L773.6,899.5L773.6,899.5L774.7,899.5L774.7,899.5L775.8,899.5L775.8,914.6L776.8,914.6L776.8,914.0L777.9,914.0L777.9,905.0L779.0,905.0L779.0,905.0L780.0,905.0L780.0,904.9L781.1,904.9L781.1,904.8L782.2,904.8L782.2,915.8L783.2,915.8L783.2,915.7L784.3,915.7L784.3,915.6L785.4,915.6L785.4,915.5L786.4,915.5L786.4,911.5L787.5,911.5L787.5,905.5L788.6,905.5L788.6,905.5L789.6,905.5L789.6,905.4L790.7,905.4L790.7,905.4L791.8,905.4L791.8,905.7L792.8,905.7L792.8,896.8L793.9,896.8L793.9,896.8L795.0,896.8L795.0,896.8L796.0,896.8L796.0,896.8L797.1,896.8L797.1,899.0L798.2,899.0L798.2,899.0L799.2,899.0L799.2,899.0L800.3,899.0L800.3,895.8L801.4,895.8L801.4,895.8L802.4,895.8L802.4,895.8L803.5,895.8L803.5,895.1L804.6,895.1L804.6,907.0L805.6,907.0L805.6,906.8L806.7,906.8L806.7,906.6L807.8,906.6L807.8,906.3L808.8,906.3L808.8,895.0L809.9,895.0L809.9,894.8L811.0,894.8L811.0,894.6L812.0,894.6L812.0,899.7L813.1,899.7L813.1,903.0L814.2,903.0L814.2,903.0L815.2,903.0L815.2,903.0L816.3,903.0L816.3,893.9L817.4,893.9L817.4,893.9L818.4,893.9L818.4,893.9L819.5,893.9L819.5,893.9L820.6,893.9L820.6,901.6L821.6,901.6L821.6,901.6L822.7,901.6L822.7,907.3L823.8,907.3L823.8,905.7L824.8,905.7L824.8,905.7L825.9,905.7L825.9,902.4L827.0,902.4L827.0,895.4L828.0,895.4L828.0,895.3L829.1,895.3L829.1,895.3L830.2,895.3L830.2,895.3L831.2,895.3L831.2,910.3L832.3,910.3L832.3,903.6L833.4,903.6L833.4,903.9L834.4,903.9L834.4,903.9L835.5,903.9L835.5,904.2L836.6,904.2L836.6,904.5L837.6,904.5L837.6,904.8L838.7,904.8L838.7,912.9L839.8,912.9L839.8,912.2L840.8,912.2L840.8,911.5L841.9,911.5L841.9,911.5L843.0,911.5L843.0,909.0L844.0,909.0L844.0,909.0L845.1,909.0L845.1,909.0L846.2,909.0L846.2,906.1L847.2,906.1L847.2,906.1L848.3,906.1L848.3,906.1L849.4,906.1L849.4,890.7L850.4,890.7L850.4,890.7L851.5,890.7L851.5,901.6L852.6,901.6L852.6,902.5L853.6,902.5L853.6,902.5L854.7,902.5L854.7,906.1L855.8,906.1L855.8,906.1L856.8,906.1L856.8,906.2L857.9,906.2L857.9,906.3L859.0,906.3L859.0,903.0L860.0,903.0L860.0,903.0L861.1,903.0L861.1,910.1L862.2,910.1L862.2,910.1L863.2,910.1L863.2,910.1L864.3,910.1L864.3,904.5L865.4,904.5L865.4,904.5L866.4,904.5L866.4,904.5L867.5,904.5L867.5,911.3L868.6,911.3L868.6,912.0L869.6,912.0L869.6,911.3L870.7,911.3L870.7,902.3L871.8,902.3L871.8,902.3L872.8,902.3L872.8,902.3L873.9,902.3L873.9,902.3L875.0,902.3L875.0,898.9L876.0,898.9L876.0,898.9L877.1,898.9L877.1,898.9L878.2,898.9L878.2,901.0L879.2,901.0L879.2,905.5L880.3,905.5L880.3,905.5L881.4,905.5L881.4,905.5L882.4,905.5L882.4,907.1L883.5,907.1L883.5,907.1L884.6,907.1L884.6,907.6L885.6,907.6L885.6,908.1L886.7,908.1L886.7,903.3L887.8,903.3L887.8,901.9L888.8,901.9L888.8,901.9L889.9,901.9L889.9,902.0L891.0,902.0L891.0,902.0L892.0,902.0L892.0,903.2L893.1,903.2L893.1,903.2L894.2,903.2L894.2,903.4L895.2,903.4L895.2,903.4L896.3,903.4L896.3,903.4L897.4,903.4L897.4,910.0L898.4,910.0L898.4,910.0L899.5,910.0L899.5,910.2L900.6,910.2L900.6,910.4L901.6,910.4L901.6,902.9L902.7,902.9L902.7,911.5L903.8,911.5L903.8,912.5L904.8,912.5L904.8,912.6L905.9,912.6L905.9,912.7L907.0,912.7L907.0,913.0L908.0,913.0L908.0,913.0L909.1,913.0L909.1,900.7L910.2,900.7L910.2,894.9L911.2,894.9L911.2,894.9L912.3,894.9L912.3,912.0L913.4,912.0L913.4,912.0L914.4,912.0L914.4,907.1L915.5,907.1L915.5,908.3L916.6,908.3L916.6,908.3L917.7,908.3L917.6,908.3L918.7,908.3L918.7,908.5L919.8,908.5L919.8,907.9L920.9,907.9L920.9,908.1L921.9,908.1L921.9,908.3L923.0,908.3L923.0,910.6L924.1,910.6L924.1,910.6L925.1,910.6L925.1,910.6L926.2,910.6L926.2,910.6L927.3,910.6L927.3,918.4L928.3,918.4L928.3,918.4L929.4,918.4L929.4,916.2L930.5,916.2L930.5,916.2L931.5,916.2L931.5,916.2L932.6,916.2L932.6,902.5L933.7,902.5L933.7,909.6L934.7,909.6L934.7,909.7L935.8,909.7L935.8,909.8L936.9,909.8L936.9,910.9L937.9,910.9L937.9,911.1L939.0,911.1L939.0,911.3L940.1,911.3L940.1,908.1L941.1,908.1L941.1,908.1L942.2,908.1L942.2,919.7L943.3,919.7L943.3,910.5L944.3,910.5L944.3,910.5L945.4,910.5L945.4,910.5L946.5,910.5L946.5,910.5L947.5,910.5L947.5,914.0L948.6,914.0L948.6,913.7L949.7,913.7L949.7,913.5L950.7,913.5L950.7,911.7L951.8,911.7L951.8,911.4L952.9,911.4L952.9,911.5L953.9,911.5L953.9,911.7L955.0,911.7L955.0,912.0L956.1,912.0L956.1,912.6L957.1,912.6L957.1,912.7L958.2,912.7L958.2,902.9L959.3,902.9L959.3,902.4L960.3,902.4L960.3,902.8L961.4,902.8L961.4,902.8L962.5,902.8L962.5,902.8L963.5,902.8L963.5,909.9L964.6,909.9L964.6,909.9L965.7,909.9L965.7,909.9L966.7,909.9L966.7,900.5L967.8,900.5L967.8,900.5L968.9,900.5L968.9,900.5L969.9,900.5L969.9,900.5L971.0,900.5L971.0,905.1L972.1,905.1L972.1,905.1L973.1,905.1L973.1,905.1L974.2,905.1L974.2,905.1L975.3,905.1L975.3,904.0L976.3,904.0L976.3,904.0L977.4,904.0L977.4,904.0L978.5,904.0L978.5,904.3L979.5,904.3L979.5,906.4L980.6,906.4L980.6,906.8L981.7,906.8L981.7,912.2L982.7,912.2L982.7,908.6L983.8,908.6L983.8,908.6L984.9,908.6L984.9,908.6L985.9,908.6L985.9,905.4L987.0,905.4L987.0,905.4L988.1,905.4L988.1,918.5L989.1,918.5L989.1,918.5L990.2,918.5L990.2,918.5L991.3,918.5L991.3,914.1L992.3,914.1L992.3,914.1L993.4,914.1L993.4,913.6L994.5,913.6L994.5,913.6L995.5,913.6L995.5,912.5L996.6,912.5L996.6,912.4L997.7,912.4L997.7,912.4L998.7,912.4L998.7,909.1L999.8,909.1L999.8,909.0L1000.9,909.0L1000.9,909.0L1001.9,909.0L1001.9,902.3L1003.0,902.3L1003.0,902.3L1004.1,902.3L1004.1,901.8L1005.1,901.8L1005.1,901.4L1006.2,901.4L1006.2,911.4L1007.3,911.4L1007.3,911.0L1008.3,911.0L1008.3,911.0L1009.4,911.0L1009.4,907.0L1010.5,907.0L1010.5,907.0L1011.5,907.0L1011.5,907.0L1012.6,907.0L1012.6,910.0L1013.7,910.0L1013.7,910.0L1014.7,910.0L1014.7,914.9L1015.8,914.9L1015.8,914.9L1016.9,914.9L1016.9,910.8L1017.9,910.8L1017.9,910.8L1019.0,910.8L1019.0,910.8L1020.1,910.8L1020.1,910.8L1021.1,910.8L1021.1,919.6L1022.2,919.6L1022.2,919.6L1023.3,919.6L1023.3,923.8L1024.3,923.8L1024.3,923.8L1025.4,923.8L1025.4,923.7L1026.5,923.7L1026.5,912.3L1027.5,912.3L1027.5,913.6L1028.6,913.6L1028.6,913.4L1029.7,913.4L1029.7,904.9L1030.7,904.9L1030.7,905.9L1031.8,905.9L1031.8,905.8L1032.9,905.8L1032.9,908.4L1033.9,908.4L1033.9,908.4L1035.0,908.4L1035.0,908.4L1036.1,908.4L1036.1,911.4L1037.1,911.4L1037.1,911.3L1038.2,911.3L1038.2,911.3L1039.3,911.3L1039.3,911.3L1040.3,911.3L1040.3,905.4L1041.4,905.4L1041.4,906.1L1042.5,906.1L1042.5,910.7L1043.5,910.7L1043.5,910.7L1044.6,910.7L1044.6,910.6L1045.7,910.6L1045.7,910.6L1046.7,910.6L1046.7,904.5L1047.8,904.5L1047.8,904.4L1048.9,904.4L1048.9,905.6L1049.9,905.6L1049.9,905.5L1051.0,905.5L1051.0,905.4L1052.1,905.4L1052.1,900.8L1053.1,900.8L1053.1,900.7L1054.2,900.7L1054.2,900.6L1055.3,900.6L1055.3,906.2L1056.3,906.2L1056.3,906.1L1057.4,906.1L1057.4,910.0L1058.5,910.0L1058.5,911.3L1059.5,911.3L1059.5,903.6L1060.6,903.6L1060.6,903.6L1061.7,903.6L1061.7,903.6L1062.7,903.6L1062.7,903.6L1063.8,903.6L1063.8,907.5L1064.9,907.5L1064.9,907.5L1065.9,907.5L1065.9,901.6L1067.0,901.6L1067.0,901.6L1068.1,901.6L1068.1,896.8L1069.1,896.8L1069.1,896.8L1070.2,896.8L1070.2,894.2L1071.3,894.2L1071.3,893.1L1072.3,893.1L1072.3,897.4L1073.4,897.4L1073.4,897.4L1074.5,897.4L1074.5,897.4L1075.5,897.4L1075.5,897.4L1076.6,897.4L1076.6,893.5L1077.7,893.5L1077.7,893.5L1078.7,893.5L1078.7,903.5L1079.8,903.5L1079.8,903.5L1080.9,903.5L1080.9,903.5L1081.9,903.5L1081.9,903.5L1083.0,903.5L1083.0,906.5L1084.1,906.5L1084.1,906.5L1085.1,906.5L1085.1,916.3L1086.2,916.3L1086.2,916.8L1087.3,916.8L1087.3,917.3L1088.3,917.3L1088.3,906.4L1089.4,906.4L1089.4,908.3L1090.5,908.3L1090.5,908.3L1091.5,908.3L1091.5,910.8L1092.6,910.8L1092.6,910.8L1093.7,910.8L1093.7,909.6L1094.7,909.6L1094.7,897.3L1095.8,897.3L1095.8,897.3L1096.9,897.3L1096.9,897.3L1097.9,897.3L1097.9,907.8L1099.0,907.8L1099.0,901.4L1100.1,901.4L1100.1,901.4L1101.1,901.4L1101.1,901.4L1102.2,901.4L1102.2,908.5L1103.3,908.5L1103.3,908.5L1104.3,908.5L1104.3,908.5L1105.4,908.5L1105.4,899.1L1106.5,899.1L1106.5,899.3L1107.5,899.3L1107.5,904.7L1108.6,904.7L1108.6,904.9L1109.7,904.9L1109.7,905.1L1110.7,905.1L1110.7,905.1L1111.8,905.1L1111.8,894.8L1112.9,894.8L1112.9,894.8L1113.9,894.8L1113.9,894.8L1115.0,894.8L1115.0,894.7L1116.1,894.7L1116.1,896.3L1117.1,896.3L1117.1,896.2L1118.2,896.2L1118.2,896.1L1119.3,896.1L1119.3,899.4L1120.3,899.4L1120.3,899.4L1121.4,899.4L1121.4,907.9L1122.5,907.9L1122.5,900.6L1123.5,900.6L1123.5,900.6L1124.6,900.6L1124.6,900.6L1125.7,900.6L1125.7,900.6L1126.7,900.6L1126.7,902.8L1127.8,902.8L1127.8,902.1L1128.9,902.1L1128.9,902.1L1129.9,902.1L1129.9,902.1L1131.0,902.1L1131.0,902.1L1131.0,902.1L1131.0,967.3L1131.0,967.3L1131.0,967.3L1129.9,967.3L1129.9,965.8L1128.9,965.8L1128.9,965.8L1127.8,965.8L1127.8,965.8L1126.7,965.8L1126.7,965.8L1125.7,965.8L1125.7,966.4L1124.6,966.4L1124.6,966.4L1123.5,966.4L1123.5,966.4L1122.5,966.4L1122.5,969.7L1121.4,969.7L1121.4,971.8L1120.3,971.8L1120.3,971.8L1119.3,971.8L1119.3,971.8L1118.2,971.8L1118.2,971.9L1117.1,971.9L1117.1,970.4L1116.1,970.4L1116.1,970.5L1115.0,970.5L1115.0,969.3L1113.9,969.3L1113.9,969.3L1112.9,969.3L1112.9,966.6L1111.8,966.6L1111.8,966.6L1110.7,966.6L1110.7,966.6L1109.7,966.6L1109.7,959.2L1108.6,959.2L1108.6,959.0L1107.5,959.0L1107.5,975.7L1106.5,975.7L1106.5,975.4L1105.4,975.4L1105.4,975.4L1104.3,975.4L1104.3,976.3L1103.3,976.3L1103.3,976.3L1102.2,976.3L1102.2,976.3L1101.1,976.3L1101.1,968.9L1100.1,968.9L1100.1,968.9L1099.0,968.9L1099.0,968.9L1097.9,968.9L1097.9,968.9L1096.9,968.9L1096.9,966.2L1095.8,966.2L1095.8,966.2L1094.7,966.2L1094.7,967.4L1093.7,967.4L1093.7,961.4L1092.6,961.4L1092.6,961.4L1091.5,961.4L1091.5,967.6L1090.5,967.6L1090.5,967.6L1089.4,967.6L1089.4,966.6L1088.3,966.6L1088.3,966.0L1087.3,966.0L1087.3,967.3L1086.2,967.3L1086.2,966.8L1085.1,966.8L1085.1,960.2L1084.1,960.2L1084.1,960.2L1083.0,960.2L1083.0,960.2L1081.9,960.2L1081.9,960.2L1080.9,960.2L1080.9,966.0L1079.8,966.0L1079.8,966.0L1078.7,966.0L1078.7,966.0L1077.7,966.0L1077.7,966.5L1076.6,966.5L1076.6,966.5L1075.5,966.5L1075.5,968.6L1074.5,968.6L1074.5,968.6L1073.4,968.6L1073.4,968.6L1072.3,968.6L1072.3,962.4L1071.3,962.4L1071.3,972.6L1070.2,972.6L1070.2,973.7L1069.1,973.7L1069.1,973.7L1068.1,973.7L1068.1,966.5L1067.0,966.5L1067.0,966.5L1065.9,966.5L1065.9,966.5L1064.9,966.5L1064.9,966.5L1063.8,966.5L1063.8,967.1L1062.7,967.1L1062.7,963.5L1061.7,963.5L1061.7,963.5L1060.6,963.5L1060.6,963.5L1059.5,963.5L1059.5,976.8L1058.5,976.8L1058.5,976.9L1057.4,976.9L1057.4,977.0L1056.3,977.0L1056.3,977.1L1055.3,977.1L1055.3,970.4L1054.2,970.4L1054.2,970.5L1053.1,970.5L1053.1,970.6L1052.1,970.6L1052.1,968.7L1051.0,968.7L1051.0,968.8L1049.9,968.8L1049.9,960.0L1048.9,960.0L1048.9,960.1L1047.8,960.1L1047.8,960.2L1046.7,960.2L1046.7,965.6L1045.7,965.6L1045.7,965.6L1044.6,965.6L1044.6,965.7L1043.5,965.7L1043.5,972.9L1042.5,972.9L1042.5,972.9L1041.4,972.9L1041.4,963.1L1040.3,963.1L1040.3,963.2L1039.3,963.2L1039.3,972.4L1038.2,972.4L1038.2,972.4L1037.1,972.4L1037.1,972.4L1036.1,972.4L1036.1,972.5L1035.0,972.5L1035.0,965.5L1033.9,965.5L1033.9,965.6L1032.9,965.6L1032.9,962.5L1031.8,962.5L1031.8,962.5L1030.7,962.5L1030.7,962.7L1029.7,962.7L1029.7,962.8L1028.6,962.8L1028.6,958.3L1027.5,958.3L1027.5,958.4L1026.5,958.4L1026.5,965.2L1025.4,965.2L1025.4,965.3L1024.3,965.3L1024.3,969.4L1023.3,969.4L1023.3,969.5L1022.2,969.5L1022.2,965.6L1021.1,965.6L1021.1,968.8L1020.1,968.8L1020.1,968.8L1019.0,968.8L1019.0,968.8L1017.9,968.8L1017.9,967.7L1016.9,967.7L1016.9,967.7L1015.8,967.7L1015.8,967.7L1014.7,967.7L1014.7,967.7L1013.7,967.7L1013.7,971.9L1012.6,971.9L1012.6,971.9L1011.5,971.9L1011.5,971.9L1010.5,971.9L1010.5,971.9L1009.4,971.9L1009.4,969.1L1008.3,969.1L1008.3,959.0L1007.3,959.0L1007.3,959.5L1006.2,959.5L1006.2,959.9L1005.1,959.9L1005.1,960.3L1004.1,960.3L1004.1,971.0L1003.0,971.0L1003.0,971.0L1001.9,971.0L1001.9,971.1L1000.9,971.1L1000.9,969.4L999.8,969.4L999.8,969.4L998.7,969.4L998.7,969.5L997.7,969.5L997.7,976.2L996.6,976.2L996.6,976.2L995.5,976.2L995.5,976.3L994.5,976.3L994.5,962.0L993.4,962.0L993.4,962.0L992.3,962.0L992.3,962.0L991.3,962.0L991.3,962.0L990.2,962.0L990.2,980.5L989.1,980.5L989.1,980.5L988.1,980.5L988.1,980.5L987.0,980.5L987.0,971.8L985.9,971.8L985.9,971.8L984.9,971.8L984.9,978.3L983.8,978.3L983.8,978.3L982.7,978.3L982.7,978.7L981.7,978.7L981.7,978.3L980.6,978.3L980.6,978.0L979.5,978.0L979.5,977.6L978.5,977.6L978.5,982.0L977.4,982.0L977.4,984.7L976.3,984.7L976.3,984.7L975.3,984.7L975.3,976.4L974.2,976.4L974.2,976.4L973.1,976.4L973.1,974.9L972.1,974.9L972.1,974.9L971.0,974.9L971.0,974.9L969.9,974.9L969.9,974.9L968.9,974.9L968.9,986.1L967.8,986.1L967.8,986.1L966.7,986.1L966.7,986.1L965.7,986.1L965.7,971.9L964.6,971.9L964.6,971.9L963.5,971.9L963.5,979.1L962.5,979.1L962.5,979.1L961.4,979.1L961.4,979.1L960.3,979.1L960.3,974.5L959.3,974.5L959.3,974.3L958.2,974.3L958.2,969.6L957.1,969.6L957.1,973.6L956.1,973.6L956.1,973.5L955.0,973.5L955.0,966.2L953.9,966.2L953.9,966.1L952.9,966.1L952.9,971.2L951.8,971.2L951.8,971.5L950.7,971.5L950.7,961.6L949.7,961.6L949.7,965.8L948.6,965.8L948.6,966.1L947.5,966.1L947.5,966.1L946.5,966.1L946.5,963.3L945.4,963.3L945.4,973.1L944.3,973.1L944.3,969.4L943.3,969.4L943.3,969.4L942.2,969.4L942.2,969.4L941.1,969.4L941.1,969.4L940.1,969.4L940.1,974.1L939.0,974.1L939.0,973.9L937.9,973.9L937.9,973.1L936.9,973.1L936.9,972.9L935.8,972.9L935.8,972.7L934.7,972.7L934.7,972.7L933.7,972.7L933.7,965.4L932.6,965.4L932.6,965.4L931.5,965.4L931.5,965.4L930.5,965.4L930.5,980.6L929.4,980.6L929.4,980.5L928.3,980.5L928.3,980.5L927.3,980.5L927.3,971.6L926.2,971.6L926.2,971.6L925.1,971.6L925.1,971.6L924.1,971.6L924.1,975.8L923.0,975.8L923.0,975.0L921.9,975.0L921.9,974.8L920.9,974.8L920.9,971.2L919.8,971.2L919.8,973.0L918.7,973.0L918.7,972.8L917.6,972.8L917.7,972.8L916.6,972.8L916.6,972.8L915.5,972.8L915.5,978.9L914.4,978.9L914.4,978.9L913.4,978.9L913.4,978.9L912.3,978.9L912.3,972.5L911.2,972.5L911.2,972.5L910.2,972.5L910.2,972.5L909.1,972.5L909.1,972.5L908.0,972.5L908.0,973.9L907.0,973.9L907.0,973.7L905.9,973.7L905.9,973.6L904.8,973.6L904.8,973.5L903.8,973.5L903.8,966.0L902.7,966.0L902.7,965.8L901.6,965.8L901.6,965.6L900.6,965.6L900.6,975.5L899.5,975.5L899.5,970.5L898.4,970.5L898.4,970.5L897.4,970.5L897.4,975.2L896.3,975.2L896.3,975.1L895.2,975.1L895.2,975.1L894.2,975.1L894.2,973.3L893.1,973.3L893.1,973.3L892.0,973.3L892.0,973.3L891.0,973.3L891.0,973.3L889.9,973.3L889.9,975.9L888.8,975.9L888.8,975.9L887.8,975.9L887.8,975.4L886.7,975.4L886.7,974.9L885.6,974.9L885.6,956.7L884.6,956.7L884.6,956.2L883.5,956.2L883.5,956.2L882.4,956.2L882.4,956.2L881.4,956.2L881.4,969.4L880.3,969.4L880.3,969.4L879.2,969.4L879.2,969.4L878.2,969.4L878.2,969.4L877.1,969.4L877.1,973.3L876.0,973.3L876.0,973.3L875.0,973.3L875.0,973.3L873.9,973.3L873.9,973.3L872.8,973.3L872.8,968.6L871.8,968.6L871.8,968.6L870.7,968.6L870.7,969.3L869.6,969.3L869.6,970.0L868.6,970.0L868.6,968.5L867.5,968.5L867.5,967.9L866.4,967.9L866.4,970.4L865.4,970.4L865.4,971.8L864.3,971.8L864.3,961.8L863.2,961.8L863.2,961.8L862.2,961.8L862.2,961.8L861.1,961.8L861.1,961.8L860.0,961.8L860.0,965.9L859.0,965.9L859.0,965.9L857.9,965.9L857.9,965.9L856.8,965.9L856.8,965.8L855.8,965.8L855.8,963.5L854.7,963.5L854.7,965.3L853.6,965.3L853.6,965.3L852.6,965.3L852.6,965.3L851.5,965.3L851.5,978.9L850.4,978.9L850.4,978.9L849.4,978.9L849.4,978.9L848.3,978.9L848.3,969.7L847.2,969.7L847.2,969.7L846.2,969.7L846.2,975.7L845.1,975.7L845.1,975.7L844.0,975.7L844.0,975.7L843.0,975.7L843.0,971.0L841.9,971.0L841.9,971.0L840.8,971.0L840.8,971.7L839.8,971.7L839.8,972.3L838.7,972.3L838.7,973.4L837.6,973.4L837.6,973.1L836.6,973.1L836.6,974.9L835.5,974.9L835.5,974.6L834.4,974.6L834.4,974.2L833.4,974.2L833.4,965.0L832.3,965.0L832.3,972.1L831.2,972.1L831.2,972.2L830.2,972.2L830.2,972.2L829.1,972.2L829.1,972.0L828.0,972.0L828.0,969.3L827.0,969.3L827.0,969.3L825.9,969.3L825.9,969.4L824.8,969.4L824.8,969.4L823.8,969.4L823.8,959.7L822.7,959.7L822.7,966.5L821.6,966.5L821.6,966.5L820.6,966.5L820.6,966.5L819.5,966.5L819.5,984.8L818.4,984.8L818.4,963.4L817.4,963.4L817.4,963.4L816.3,963.4L816.3,963.4L815.2,963.4L815.2,963.5L814.2,963.5L814.2,963.5L813.1,963.5L813.1,963.5L812.0,963.5L812.0,963.5L811.0,963.5L811.0,962.7L809.9,962.7L809.9,962.9L808.8,962.9L808.8,964.2L807.8,964.2L807.8,964.4L806.7,964.4L806.7,964.6L805.6,964.6L805.6,971.7L804.6,971.7L804.6,972.3L803.5,972.3L803.5,973.0L802.4,973.0L802.4,973.0L801.4,973.0L801.4,962.5L800.3,962.5L800.3,962.5L799.2,962.5L799.2,962.5L798.2,962.5L798.2,962.5L797.1,962.5L797.1,961.8L796.0,961.8L796.0,964.5L795.0,964.5L795.0,964.6L793.9,964.6L793.9,963.5L792.8,963.5L792.8,965.2L791.8,965.2L791.8,965.2L790.7,965.2L790.7,965.2L789.6,965.2L789.6,974.3L788.6,974.3L788.6,961.4L787.5,961.4L787.5,961.4L786.4,961.4L786.4,961.5L785.4,961.5L785.4,959.5L784.3,959.5L784.3,959.5L783.2,959.5L783.2,959.6L782.2,959.6L782.2,977.3L781.1,977.3L781.1,977.4L780.0,977.4L780.0,979.5L779.0,979.5L779.0,984.6L777.9,984.6L777.9,984.6L776.8,984.6L776.8,984.6L775.8,984.6L775.8,971.2L774.7,971.2L774.7,971.2L773.6,971.2L773.6,973.7L772.6,973.7L772.6,972.2L771.5,972.2L771.5,972.3L770.4,972.3L770.4,972.3L769.4,972.3L769.4,972.3L768.3,972.3L768.3,973.0L767.2,973.0L767.2,973.0L766.2,973.0L766.2,960.9L765.1,960.9L765.1,970.2L764.0,970.2L764.0,970.2L763.0,970.2L763.0,970.2L761.9,970.2L761.9,970.2L760.8,970.2L760.8,985.5L759.8,985.5L759.8,979.2L758.7,979.2L758.7,979.2L757.6,979.2L757.6,963.5L756.6,963.5L756.6,963.5L755.5,963.5L755.5,970.7L754.4,970.7L754.4,970.7L753.4,970.7L753.4,970.7L752.3,970.7L752.3,963.2L751.2,963.2L751.2,963.3L750.2,963.3L750.2,963.4L749.1,963.4L749.1,963.5L748.0,963.5L748.0,974.2L747.0,974.2L747.0,974.6L745.9,974.6L745.9,973.5L744.8,973.5L744.8,978.3L743.8,978.3L743.8,978.7L742.7,978.7L742.7,972.4L741.6,972.4L741.6,972.3L740.6,972.3L740.6,980.7L739.5,980.7L739.5,969.6L738.4,969.6L738.4,969.5L737.4,969.5L737.4,968.9L736.3,968.9L736.3,968.8L735.2,968.8L735.2,968.7L734.2,968.7L734.2,967.1L733.1,967.1L733.1,972.9L732.0,972.9L732.0,972.9L731.0,972.9L731.0,972.8L729.9,972.8L729.9,972.7L728.8,972.7L728.8,980.3L727.8,980.3L727.8,980.2L726.7,980.2L726.7,980.1L725.6,980.1L725.6,973.0L724.6,973.0L724.6,973.0L723.5,973.0L723.5,973.1L722.4,973.1L722.4,973.2L721.4,973.2L721.4,972.6L720.3,972.6L720.3,974.7L719.2,974.7L719.2,965.4L718.2,965.4L718.2,977.4L717.1,977.4L717.1,977.3L716.0,977.3L716.0,977.3L715.0,977.3L715.0,977.7L713.9,977.7L713.9,975.5L712.8,975.5L712.8,975.5L711.8,975.5L711.8,975.5L710.7,975.5L710.7,975.5L709.6,975.5L709.6,978.7L708.6,978.7L708.6,966.3L707.5,966.3L707.5,966.3L706.4,966.3L706.4,966.2L705.4,966.2L705.4,965.9L704.3,965.9Z" fill="#ff0000" stroke="#ff0000" stroke-width="9" stroke-linejoin="miter"/>
</g>
<line x1="702.3" y1="786.4" x2="1133.0" y2="786.4" stroke="#888888" stroke-width="6"/>
<line x1="702.3" y1="1062.8" x2="1133.0" y2="1062.8" stroke="#888888" stroke-width="6"/>
<line x1="704.3" y1="786.4" x2="704.3" y2="1065.8" stroke="#262626" stroke-width="3.5"/>
<line x1="1131.0" y1="786.4" x2="1131.0" y2="1065.8" stroke="#888888" stroke-width="6"/>
<line x1="917.6" y1="786.4" x2="917.6" y2="792.4" stroke="#333" stroke-width="4"/>
<line x1="917.6" y1="1062.8" x2="917.6" y2="1056.8" stroke="#333" stroke-width="4"/>
<line x1="704.3" y1="811.5" x2="711.3" y2="811.5" stroke="#333" stroke-width="4"/>
<line x1="1131.0" y1="811.5" x2="1124.0" y2="811.5" stroke="#333" stroke-width="4"/>
<line x1="704.3" y1="937.2" x2="711.3" y2="937.2" stroke="#333" stroke-width="4"/>
<line x1="1131.0" y1="937.2" x2="1124.0" y2="937.2" stroke="#333" stroke-width="4"/>
<text transform="translate(640.78 835.34) scale(1.0244 1)" font-size="66.38" fill="#262626">5</text>
<text transform="translate(639.17 960.25) scale(1.0817 1)" font-size="65.44" fill="#262626">0</text>
<text transform="translate(615.28 1087.94) scale(0.9762 1)" font-size="66.38" fill="#262626">-5</text>
<text transform="translate(685.92 1152.54) scale(0.9356 1)" font-size="66.38" fill="#262626">5</text>
<text transform="translate(878.54 1152.55) scale(1.0111 1)" font-size="65.44" fill="#262626">10</text>
<text transform="translate(1093.33 1152.54) scale(0.9993 1)" font-size="66.38" fill="#262626">15</text>
<text transform="translate(704.37 780.63) scale(1.0802 1)" font-size="78.43" fill="#6a6a6a" stroke="#ffffff" stroke-width="2.2">×</text>
<text transform="translate(757.99 769.33) scale(0.9516 1)" font-size="67.42" fill="#262626">10</text>
<text transform="translate(826.46 737.24) scale(1.0067 1)" font-size="51.61" fill="#262626">-</text>
<text transform="translate(842.09 734.38) scale(1.0896 1)" font-size="51.59" fill="#262626">3</text>
<rect x="1435.6" y="786.4" width="421.8000000000002" height="276.4" fill="#ffffff"/>
<line x1="1646.5" y1="786.4" x2="1646.5" y2="1062.8" stroke="#eeeeee" stroke-width="5.5"/>
<line x1="1435.6" y1="924.6" x2="1857.4" y2="924.6" stroke="#eeeeee" stroke-width="5"/>
<g clip-path="url(#c2)">
<path d="M1435.6,932.9L1436.7,932.9L1436.7,937.8L1437.7,937.8L1437.7,947.0L1438.8,947.0L1438.8,947.9L1439.8,947.9L1439.8,948.9L1440.9,948.9L1440.9,949.8L1441.9,949.8L1441.9,941.0L1443.0,941.0L1443.0,942.0L1444.0,942.0L1444.0,942.9L1445.1,942.9L1445.1,943.8L1446.1,943.8L1446.1,946.6L1447.2,946.6L1447.2,942.2L1448.3,942.2L1448.3,943.2L1449.3,943.2L1449.3,940.4L1450.4,940.4L1450.4,899.9L1451.4,899.9L1451.4,942.0L1452.5,942.0L1452.5,939.2L1453.5,939.2L1453.5,936.5L1454.6,936.5L1454.6,920.7L1455.6,920.7L1455.6,907.6L1456.7,907.6L1456.7,904.9L1457.7,904.9L1457.7,908.3L1458.8,908.3L1458.8,911.8L1459.9,911.8L1459.9,918.7L1460.9,918.7L1460.9,922.1L1462.0,922.1L1462.0,933.7L1463.0,933.7L1463.0,937.1L1464.1,937.1L1464.1,936.3L1465.1,936.3L1465.1,939.7L1466.2,939.7L1466.2,943.2L1467.2,943.2L1467.2,946.7L1468.3,946.7L1468.3,964.3L1469.3,964.3L1469.3,967.8L1470.4,967.8L1470.4,939.1L1471.5,939.1L1471.5,968.5L1472.5,968.5L1472.5,990.7L1473.6,990.7L1473.6,981.7L1474.6,981.7L1474.6,973.3L1475.7,973.3L1475.7,959.1L1476.7,959.1L1476.7,932.7L1477.8,932.7L1477.8,921.3L1478.8,921.3L1478.8,917.2L1479.9,917.2L1479.9,913.0L1480.9,913.0L1480.9,908.9L1482.0,908.9L1482.0,832.7L1483.1,832.7L1483.1,832.2L1484.1,832.2L1484.1,834.3L1485.2,834.3L1485.2,885.0L1486.2,885.0L1486.2,880.4L1487.3,880.4L1487.3,880.0L1488.3,880.0L1488.3,879.5L1489.4,879.5L1489.4,873.3L1490.4,873.3L1490.4,886.3L1491.5,886.3L1491.5,885.9L1492.5,885.9L1492.5,885.4L1493.6,885.4L1493.6,885.0L1494.7,885.0L1494.7,885.6L1495.7,885.6L1495.7,863.5L1496.8,863.5L1496.8,841.4L1497.8,841.4L1497.8,840.9L1498.9,840.9L1498.9,800.2L1499.9,800.2L1499.9,799.7L1501.0,799.7L1501.0,799.3L1502.0,799.3L1502.0,835.4L1503.1,835.4L1503.1,834.9L1504.1,834.9L1504.1,846.8L1505.2,846.8L1505.2,846.4L1506.3,846.4L1506.3,845.9L1507.3,845.9L1507.3,845.4L1508.4,845.4L1508.4,831.7L1509.4,831.7L1509.4,831.2L1510.5,831.2L1510.5,827.1L1511.5,827.1L1511.5,823.0L1512.6,823.0L1512.6,820.2L1513.6,820.2L1513.6,803.9L1514.7,803.9L1514.7,776.4L1515.7,776.4L1515.7,776.4L1516.8,776.4L1516.8,810.3L1517.9,810.3L1517.9,807.6L1518.9,807.6L1518.9,804.8L1520.0,804.8L1520.0,789.6L1521.0,789.6L1521.0,779.9L1522.1,779.9L1522.1,795.8L1523.1,795.8L1523.1,795.3L1524.2,795.3L1524.2,794.8L1525.2,794.8L1525.2,794.4L1526.3,794.4L1526.3,781.4L1527.3,781.4L1527.3,780.9L1528.4,780.9L1528.4,780.5L1529.5,780.5L1529.5,776.4L1530.5,776.4L1530.5,776.4L1531.6,776.4L1531.6,779.8L1532.6,779.8L1532.6,779.3L1533.7,779.3L1533.7,776.4L1534.7,776.4L1534.7,776.4L1535.8,776.4L1535.8,776.4L1536.8,776.4L1536.8,776.4L1537.9,776.4L1537.9,776.4L1538.9,776.4L1538.9,776.4L1540.0,776.4L1540.0,776.4L1541.0,776.4L1541.0,776.4L1542.1,776.4L1542.1,776.4L1543.2,776.4L1543.2,776.4L1544.2,776.4L1544.2,776.4L1545.3,776.4L1545.3,776.4L1546.3,776.4L1546.3,776.4L1547.4,776.4L1547.4,776.4L1548.4,776.4L1548.4,776.4L1549.5,776.4L1549.5,776.4L1550.5,776.4L1550.5,776.4L1551.6,776.4L1551.6,776.4L1552.6,776.4L1552.6,776.4L1553.7,776.4L1553.7,776.4L1554.8,776.4L1554.8,776.4L1555.8,776.4L1555.8,776.4L1556.9,776.4L1556.9,776.4L1557.9,776.4L1557.9,776.4L1559.0,776.4L1559.0,776.4L1560.0,776.4L1560.0,776.4L1561.1,776.4L1561.1,776.4L1562.1,776.4L1562.1,776.4L1563.2,776.4L1563.2,776.4L1564.2,776.4L1564.2,776.4L1565.3,776.4L1565.3,776.4L1566.4,776.4L1566.4,776.4L1567.4,776.4L1567.4,776.4L1568.5,776.4L1568.5,776.4L1569.5,776.4L1569.5,776.4L1570.6,776.4L1570.6,776.4L1571.6,776.4L1571.6,776.4L1572.7,776.4L1572.7,776.4L1573.7,776.4L1573.7,776.4L1574.8,776.4L1574.8,776.4L1575.8,776.4L1575.8,776.4L1576.9,776.4L1576.9,776.4L1578.0,776.4L1578.0,776.4L1579.0,776.4L1579.0,776.4L1580.1,776.4L1580.1,776.4L1581.1,776.4L1581.1,776.4L1582.2,776.4L1582.2,776.4L1583.2,776.4L1583.2,776.4L1584.3,776.4L1584.3,776.4L1585.3,776.4L1585.3,776.4L1586.4,776.4L1586.4,776.4L1587.4,776.4L1587.4,776.4L1588.5,776.4L1588.5,776.4L1589.6,776.4L1589.6,776.4L1590.6,776.4L1590.6,776.4L1591.7,776.4L1591.7,776.4L1592.7,776.4L1592.7,776.4L1593.8,776.4L1593.8,776.4L1594.8,776.4L1594.8,776.4L1595.9,776.4L1595.9,776.4L1596.9,776.4L1596.9,776.4L1598.0,776.4L1598.0,776.4L1599.0,776.4L1599.0,776.4L1600.1,776.4L1600.1,776.4L1601.2,776.4L1601.2,776.4L1602.2,776.4L1602.2,776.4L1603.3,776.4L1603.3,776.4L1604.3,776.4L1604.3,776.4L1605.4,776.4L1605.4,776.4L1606.4,776.4L1606.4,776.4L1607.5,776.4L1607.5,776.4L1608.5,776.4L1608.5,776.4L1609.6,776.4L1609.6,776.4L1610.6,776.4L1610.6,776.4L1611.7,776.4L1611.7,776.4L1612.8,776.4L1612.8,776.4L1613.8,776.4L1613.8,776.4L1614.9,776.4L1614.9,776.4L1615.9,776.4L1615.9,784.9L1617.0,784.9L1617.0,808.4L1618.0,808.4L1618.0,780.0L1619.1,780.0L1619.1,789.5L1620.1,789.5L1620.1,790.0L1621.2,790.0L1621.2,790.6L1622.2,790.6L1622.2,791.1L1623.3,791.1L1623.3,776.4L1624.4,776.4L1624.4,776.4L1625.4,776.4L1625.4,776.4L1626.5,776.4L1626.5,811.4L1627.5,811.4L1627.5,786.9L1628.6,786.9L1628.6,803.4L1629.6,803.4L1629.6,813.1L1630.7,813.1L1630.7,830.1L1631.7,830.1L1631.7,839.8L1632.8,839.8L1632.8,837.3L1633.8,837.3L1633.8,845.9L1634.9,845.9L1634.9,851.5L1636.0,851.5L1636.0,851.4L1637.0,851.4L1637.0,852.0L1638.1,852.0L1638.1,858.3L1639.1,858.3L1639.1,858.8L1640.2,858.8L1640.2,859.4L1641.2,859.4L1641.2,878.3L1642.3,878.3L1642.3,878.8L1643.3,878.8L1643.3,879.4L1644.4,879.4L1644.4,858.7L1645.4,858.7L1645.4,859.3L1646.5,859.3L1646.5,859.8L1647.6,859.8L1647.6,868.1L1648.6,868.1L1648.6,873.1L1649.7,873.1L1649.7,881.4L1650.7,881.4L1650.7,865.4L1651.8,865.4L1651.8,865.8L1652.8,865.8L1652.8,866.3L1653.9,866.3L1653.9,866.8L1654.9,866.8L1654.9,907.1L1656.0,907.1L1656.0,907.6L1657.0,907.6L1657.0,908.1L1658.1,908.1L1658.1,892.3L1659.2,892.3L1659.2,892.8L1660.2,892.8L1660.2,893.2L1661.3,893.2L1661.3,893.7L1662.3,893.7L1662.3,910.1L1663.4,910.1L1663.4,910.5L1664.4,910.5L1664.4,918.8L1665.5,918.8L1665.5,927.1L1666.5,927.1L1666.5,939.2L1667.6,939.2L1667.6,947.5L1668.6,947.5L1668.6,947.5L1669.7,947.5L1669.7,947.5L1670.8,947.5L1670.8,957.8L1671.8,957.8L1671.8,957.8L1672.9,957.8L1672.9,957.8L1673.9,957.8L1673.9,957.8L1675.0,957.8L1675.0,933.6L1676.0,933.6L1676.0,933.6L1677.1,933.6L1677.1,921.2L1678.1,921.2L1678.1,908.7L1679.2,908.7L1679.2,891.3L1680.2,891.3L1680.2,878.8L1681.3,878.8L1681.3,897.4L1682.4,897.4L1682.4,902.6L1683.4,902.6L1683.4,907.8L1684.5,907.8L1684.5,893.9L1685.5,893.9L1685.5,899.1L1686.6,899.1L1686.6,916.2L1687.6,916.2L1687.6,921.4L1688.7,921.4L1688.7,926.5L1689.7,926.5L1689.7,913.2L1690.8,913.2L1690.8,913.2L1691.8,913.2L1691.8,913.2L1692.9,913.2L1692.9,931.3L1694.0,931.3L1694.0,931.3L1695.0,931.3L1695.0,931.3L1696.1,931.3L1696.1,931.3L1697.1,931.3L1697.1,931.3L1698.2,931.3L1698.2,931.3L1699.2,931.3L1699.2,926.9L1700.3,926.9L1700.3,926.9L1701.3,926.9L1701.3,937.3L1702.4,937.3L1702.4,937.3L1703.4,937.3L1703.4,937.3L1704.5,937.3L1704.5,937.3L1705.6,937.3L1705.6,935.3L1706.6,935.3L1706.6,957.4L1707.7,957.4L1707.7,971.5L1708.7,971.5L1708.7,959.3L1709.8,959.3L1709.8,975.2L1710.8,975.2L1710.8,975.2L1711.9,975.2L1711.9,975.2L1712.9,975.2L1712.9,975.4L1714.0,975.4L1714.0,1007.3L1715.0,1007.3L1715.0,1007.3L1716.1,1007.3L1716.1,1007.3L1717.2,1007.3L1717.2,1007.3L1718.2,1007.3L1718.2,990.9L1719.3,990.9L1719.3,990.9L1720.3,990.9L1720.3,990.9L1721.4,990.9L1721.4,937.3L1722.4,937.3L1722.4,937.3L1723.5,937.3L1723.5,934.6L1724.5,934.6L1724.5,995.1L1725.6,995.1L1725.6,992.3L1726.6,992.3L1726.6,988.1L1727.7,988.1L1727.7,985.3L1728.8,985.3L1728.8,970.7L1729.8,970.7L1729.8,968.0L1730.9,968.0L1730.9,965.2L1731.9,965.2L1731.9,945.9L1733.0,945.9L1733.0,932.6L1734.0,932.6L1734.0,918.7L1735.1,918.7L1735.1,899.4L1736.1,899.4L1736.1,891.0L1737.2,891.0L1737.2,891.0L1738.2,891.0L1738.2,891.0L1739.3,891.0L1739.3,896.6L1740.4,896.6L1740.4,899.7L1741.4,899.7L1741.4,899.7L1742.5,899.7L1742.5,900.1L1743.5,900.1L1743.5,900.1L1744.6,900.1L1744.6,902.3L1745.6,902.3L1745.6,902.3L1746.7,902.3L1746.7,916.3L1747.7,916.3L1747.7,916.3L1748.8,916.3L1748.8,888.0L1749.8,888.0L1749.8,886.1L1750.9,886.1L1750.9,895.4L1752.0,895.4L1752.0,893.6L1753.0,893.6L1753.0,891.7L1754.1,891.7L1754.1,870.2L1755.1,870.2L1755.1,863.3L1756.2,863.3L1756.2,856.4L1757.2,856.4L1757.2,849.4L1758.3,849.4L1758.3,840.1L1759.3,840.1L1759.3,838.2L1760.4,838.2L1760.4,841.3L1761.4,841.3L1761.4,839.5L1762.5,839.5L1762.5,837.6L1763.5,837.6L1763.5,835.8L1764.6,835.8L1764.6,837.6L1765.7,837.6L1765.7,836.2L1766.7,836.2L1766.7,834.8L1767.8,834.8L1767.8,833.4L1768.8,833.4L1768.8,785.3L1769.9,785.3L1769.9,840.3L1770.9,840.3L1770.9,838.9L1772.0,838.9L1772.0,816.9L1773.0,816.9L1773.0,815.5L1774.1,815.5L1774.1,839.1L1775.1,839.1L1775.1,833.6L1776.2,833.6L1776.2,825.3L1777.3,825.3L1777.3,819.8L1778.3,819.8L1778.3,819.3L1779.4,819.3L1779.4,813.8L1780.4,813.8L1780.4,808.3L1781.5,808.3L1781.5,808.8L1782.5,808.8L1782.5,803.2L1783.6,803.2L1783.6,797.7L1784.6,797.7L1784.6,792.2L1785.7,792.2L1785.7,776.4L1786.7,776.4L1786.7,776.4L1787.8,776.4L1787.8,776.4L1788.9,776.4L1788.9,776.4L1789.9,776.4L1789.9,776.4L1791.0,776.4L1791.0,776.4L1792.0,776.4L1792.0,776.4L1793.1,776.4L1793.1,776.4L1794.1,776.4L1794.1,776.4L1795.2,776.4L1795.2,781.3L1796.2,781.3L1796.2,781.3L1797.3,781.3L1797.3,776.4L1798.3,776.4L1798.3,776.4L1799.4,776.4L1799.4,776.4L1800.5,776.4L1800.5,776.4L1801.5,776.4L1801.5,776.4L1802.6,776.4L1802.6,776.4L1803.6,776.4L1803.6,776.4L1804.7,776.4L1804.7,776.4L1805.7,776.4L1805.7,776.4L1806.8,776.4L1806.8,776.4L1807.8,776.4L1807.8,776.4L1808.9,776.4L1808.9,776.4L1809.9,776.4L1809.9,776.4L1811.0,776.4L1811.0,776.4L1812.1,776.4L1812.1,776.4L1813.1,776.4L1813.1,776.4L1814.2,776.4L1814.2,776.4L1815.2,776.4L1815.2,776.4L1816.3,776.4L1816.3,796.8L1817.3,796.8L1817.3,796.8L1818.4,796.8L1818.4,782.0L1819.4,782.0L1819.4,782.0L1820.5,782.0L1820.5,776.4L1821.5,776.4L1821.5,776.4L1822.6,776.4L1822.6,776.4L1823.7,776.4L1823.7,776.4L1824.7,776.4L1824.7,776.4L1825.8,776.4L1825.8,776.4L1826.8,776.4L1826.8,776.4L1827.9,776.4L1827.9,776.4L1828.9,776.4L1828.9,776.4L1830.0,776.4L1830.0,776.4L1831.0,776.4L1831.0,776.4L1832.1,776.4L1832.1,776.4L1833.1,776.4L1833.1,776.4L1834.2,776.4L1834.2,776.4L1835.3,776.4L1835.3,776.4L1836.3,776.4L1836.3,776.4L1837.4,776.4L1837.4,776.4L1838.4,776.4L1838.4,776.4L1839.5,776.4L1839.5,776.4L1840.5,776.4L1840.5,776.4L1841.6,776.4L1841.6,776.4L1842.6,776.4L1842.6,776.4L1843.7,776.4L1843.7,776.4L1844.7,776.4L1844.7,776.4L1845.8,776.4L1845.8,776.4L1846.9,776.4L1846.9,776.4L1847.9,776.4L1847.9,776.4L1849.0,776.4L1849.0,776.4L1850.0,776.4L1850.0,776.4L1851.1,776.4L1851.1,776.4L1852.1,776.4L1852.1,776.4L1853.2,776.4L1853.2,776.4L1854.2,776.4L1854.2,776.4L1855.3,776.4L1855.3,776.4L1856.3,776.4L1856.3,776.4L1857.4,776.4L1857.4,776.4L1857.4,776.4L1857.4,873.6L1857.4,873.6L1857.4,873.6L1856.3,873.6L1856.3,873.6L1855.3,873.6L1855.3,868.4L1854.2,868.4L1854.2,868.4L1853.2,868.4L1853.2,868.4L1852.1,868.4L1852.1,869.8L1851.1,869.8L1851.1,869.8L1850.0,869.8L1850.0,870.0L1849.0,870.0L1849.0,878.6L1847.9,878.6L1847.9,878.6L1846.9,878.6L1846.9,878.6L1845.8,878.6L1845.8,889.5L1844.7,889.5L1844.7,893.6L1843.7,893.6L1843.7,897.8L1842.6,897.8L1842.6,957.6L1841.6,957.6L1841.6,961.7L1840.5,961.7L1840.5,961.7L1839.5,961.7L1839.5,909.8L1838.4,909.8L1838.4,905.7L1837.4,905.7L1837.4,905.7L1836.3,905.7L1836.3,896.0L1835.3,896.0L1835.3,872.6L1834.2,872.6L1834.2,862.9L1833.1,862.9L1833.1,853.3L1832.1,853.3L1832.1,862.5L1831.0,862.5L1831.0,862.5L1830.0,862.5L1830.0,901.2L1828.9,901.2L1828.9,901.2L1827.9,901.2L1827.9,864.0L1826.8,864.0L1826.8,864.0L1825.8,864.0L1825.8,880.1L1824.7,880.1L1824.7,867.1L1823.7,867.1L1823.7,867.1L1822.6,867.1L1822.6,867.1L1821.5,867.1L1821.5,916.9L1820.5,916.9L1820.5,980.2L1819.4,980.2L1819.4,947.1L1818.4,947.1L1818.4,947.1L1817.3,947.1L1817.3,950.3L1816.3,950.3L1816.3,931.9L1815.2,931.9L1815.2,907.6L1814.2,907.6L1814.2,884.6L1813.1,884.6L1813.1,861.6L1812.1,861.6L1812.1,835.7L1811.0,835.7L1811.0,835.7L1809.9,835.7L1809.9,838.0L1808.9,838.0L1808.9,839.7L1807.8,839.7L1807.8,839.7L1806.8,839.7L1806.8,858.7L1805.7,858.7L1805.7,834.2L1804.7,834.2L1804.7,834.2L1803.6,834.2L1803.6,834.2L1802.6,834.2L1802.6,834.2L1801.5,834.2L1801.5,845.8L1800.5,845.8L1800.5,845.8L1799.4,845.8L1799.4,845.9L1798.3,845.9L1798.3,892.9L1797.3,892.9L1797.3,948.2L1796.2,948.2L1796.2,948.2L1795.2,948.2L1795.2,948.2L1794.1,948.2L1794.1,948.2L1793.1,948.2L1793.1,949.1L1792.0,949.1L1792.0,949.1L1791.0,949.1L1791.0,949.1L1789.9,949.1L1789.9,938.7L1788.9,938.7L1788.9,938.7L1787.8,938.7L1787.8,938.7L1786.7,938.7L1786.7,938.7L1785.7,938.7L1785.7,935.4L1784.6,935.4L1784.6,946.8L1783.6,946.8L1783.6,952.4L1782.5,952.4L1782.5,957.9L1781.5,957.9L1781.5,979.4L1780.4,979.4L1780.4,984.9L1779.4,984.9L1779.4,990.5L1778.3,990.5L1778.3,1004.4L1777.3,1004.4L1777.3,1010.0L1776.2,1010.0L1776.2,1015.5L1775.1,1015.5L1775.1,1021.0L1774.1,1021.0L1774.1,1014.4L1773.0,1014.4L1773.0,1015.8L1772.0,1015.8L1772.0,1018.6L1770.9,1018.6L1770.9,1020.0L1769.9,1020.0L1769.9,1021.3L1768.8,1021.3L1768.8,1012.3L1767.8,1012.3L1767.8,1025.7L1766.7,1025.7L1766.7,1027.1L1765.7,1027.1L1765.7,1028.5L1764.6,1028.5L1764.6,1032.6L1763.5,1032.6L1763.5,1034.5L1762.5,1034.5L1762.5,1029.9L1761.4,1029.9L1761.4,1031.7L1760.4,1031.7L1760.4,1033.6L1759.3,1033.6L1759.3,1023.7L1758.3,1023.7L1758.3,1030.6L1757.2,1030.6L1757.2,1059.6L1756.2,1059.6L1756.2,1066.5L1755.1,1066.5L1755.1,1072.8L1754.1,1072.8L1754.1,1072.8L1753.0,1072.8L1753.0,1059.0L1752.0,1059.0L1752.0,1060.8L1750.9,1060.8L1750.9,1072.1L1749.8,1072.1L1749.8,1072.8L1748.8,1072.8L1748.8,1072.8L1747.7,1072.8L1747.7,1072.8L1746.7,1072.8L1746.7,1070.2L1745.6,1070.2L1745.6,1070.2L1744.6,1070.2L1744.6,1070.2L1743.5,1070.2L1743.5,1070.2L1742.5,1070.2L1742.5,1061.8L1741.4,1061.8L1741.4,1061.8L1740.4,1061.8L1740.4,1061.8L1739.3,1061.8L1739.3,1061.8L1738.2,1061.8L1738.2,1035.6L1737.2,1035.6L1737.2,1035.6L1736.1,1035.6L1736.1,1035.6L1735.1,1035.6L1735.1,1072.8L1734.0,1072.8L1734.0,1072.8L1733.0,1072.8L1733.0,1072.8L1731.9,1072.8L1731.9,1072.8L1730.9,1072.8L1730.9,1072.8L1729.8,1072.8L1729.8,1072.8L1728.8,1072.8L1728.8,1072.8L1727.7,1072.8L1727.7,1072.8L1726.6,1072.8L1726.6,1072.8L1725.6,1072.8L1725.6,1072.8L1724.5,1072.8L1724.5,1072.8L1723.5,1072.8L1723.5,1072.8L1722.4,1072.8L1722.4,1072.8L1721.4,1072.8L1721.4,1072.8L1720.3,1072.8L1720.3,1072.8L1719.3,1072.8L1719.3,1072.8L1718.2,1072.8L1718.2,1072.8L1717.2,1072.8L1717.2,1072.8L1716.1,1072.8L1716.1,1072.8L1715.0,1072.8L1715.0,1072.8L1714.0,1072.8L1714.0,1072.8L1712.9,1072.8L1712.9,1072.8L1711.9,1072.8L1711.9,1072.8L1710.8,1072.8L1710.8,1072.8L1709.8,1072.8L1709.8,1072.8L1708.7,1072.8L1708.7,1072.8L1707.7,1072.8L1707.7,1072.8L1706.6,1072.8L1706.6,1072.8L1705.6,1072.8L1705.6,1072.8L1704.5,1072.8L1704.5,1072.8L1703.4,1072.8L1703.4,1072.8L1702.4,1072.8L1702.4,1072.8L1701.3,1072.8L1701.3,1072.8L1700.3,1072.8L1700.3,1072.8L1699.2,1072.8L1699.2,1072.8L1698.2,1072.8L1698.2,1072.8L1697.1,1072.8L1697.1,1072.8L1696.1,1072.8L1696.1,1072.8L1695.0,1072.8L1695.0,1072.8L1694.0,1072.8L1694.0,1072.8L1692.9,1072.8L1692.9,1072.8L1691.8,1072.8L1691.8,1072.8L1690.8,1072.8L1690.8,1072.8L1689.7,1072.8L1689.7,1072.8L1688.7,1072.8L1688.7,1072.8L1687.6,1072.8L1687.6,1072.8L1686.6,1072.8L1686.6,1072.8L1685.5,1072.8L1685.5,1072.8L1684.5,1072.8L1684.5,1072.8L1683.4,1072.8L1683.4,1072.8L1682.4,1072.8L1682.4,1059.7L1681.3,1059.7L1681.3,1054.6L1680.2,1054.6L1680.2,1067.0L1679.2,1067.0L1679.2,1072.8L1678.1,1072.8L1678.1,1072.8L1677.1,1072.8L1677.1,1072.8L1676.0,1072.8L1676.0,1072.8L1675.0,1072.8L1675.0,1072.8L1673.9,1072.8L1673.9,1072.8L1672.9,1072.8L1672.9,1072.8L1671.8,1072.8L1671.8,1072.8L1670.8,1072.8L1670.8,1072.8L1669.7,1072.8L1669.7,1072.8L1668.6,1072.8L1668.6,1072.8L1667.6,1072.8L1667.6,1072.8L1666.5,1072.8L1666.5,1072.8L1665.5,1072.8L1665.5,1072.8L1664.4,1072.8L1664.4,1072.8L1663.4,1072.8L1663.4,1072.8L1662.3,1072.8L1662.3,1072.8L1661.3,1072.8L1661.3,1072.8L1660.2,1072.8L1660.2,1072.8L1659.2,1072.8L1659.2,1072.8L1658.1,1072.8L1658.1,1072.8L1657.0,1072.8L1657.0,1072.8L1656.0,1072.8L1656.0,1072.8L1654.9,1072.8L1654.9,1072.8L1653.9,1072.8L1653.9,1072.8L1652.8,1072.8L1652.8,1072.8L1651.8,1072.8L1651.8,1072.8L1650.7,1072.8L1650.7,1063.5L1649.7,1063.5L1649.7,1055.2L1648.6,1055.2L1648.6,1046.9L1647.6,1046.9L1647.6,1038.4L1646.5,1038.4L1646.5,1037.8L1645.4,1037.8L1645.4,1037.3L1644.4,1037.3L1644.4,1033.2L1643.3,1033.2L1643.3,1032.6L1642.3,1032.6L1642.3,1032.0L1641.2,1032.0L1641.2,1038.2L1640.2,1038.2L1640.2,1037.7L1639.1,1037.7L1639.1,1051.6L1638.1,1051.6L1638.1,1051.0L1637.0,1051.0L1637.0,1050.5L1636.0,1050.5L1636.0,1045.0L1634.9,1045.0L1634.9,1042.5L1633.8,1042.5L1633.8,1051.5L1632.8,1051.5L1632.8,1014.2L1631.7,1014.2L1631.7,1004.5L1630.7,1004.5L1630.7,994.9L1629.6,994.9L1629.6,1002.3L1628.6,1002.3L1628.6,992.6L1627.5,992.6L1627.5,992.0L1626.5,992.0L1626.5,975.4L1625.4,975.4L1625.4,974.8L1624.4,974.8L1624.4,967.7L1623.3,967.7L1623.3,967.1L1622.2,967.1L1622.2,976.3L1621.2,976.3L1621.2,981.0L1620.1,981.0L1620.1,980.4L1619.1,980.4L1619.1,979.9L1618.0,979.9L1618.0,974.5L1617.0,974.5L1617.0,957.6L1615.9,957.6L1615.9,934.1L1614.9,934.1L1614.9,910.6L1613.8,910.6L1613.8,887.1L1612.8,887.1L1612.8,862.8L1611.7,862.8L1611.7,862.8L1610.6,862.8L1610.6,862.8L1609.6,862.8L1609.6,893.5L1608.5,893.5L1608.5,869.5L1607.5,869.5L1607.5,868.7L1606.4,868.7L1606.4,861.6L1605.4,861.6L1605.4,861.6L1604.3,861.6L1604.3,861.6L1603.3,861.6L1603.3,909.6L1602.2,909.6L1602.2,859.6L1601.2,859.6L1601.2,859.6L1600.1,859.6L1600.1,890.0L1599.0,890.0L1599.0,920.4L1598.0,920.4L1598.0,921.4L1596.9,921.4L1596.9,891.0L1595.9,891.0L1595.9,891.0L1594.8,891.0L1594.8,869.9L1593.8,869.9L1593.8,869.9L1592.7,869.9L1592.7,925.1L1591.7,925.1L1591.7,925.1L1590.6,925.1L1590.6,925.1L1589.6,925.1L1589.6,879.4L1588.5,879.4L1588.5,879.4L1587.4,879.4L1587.4,876.6L1586.4,876.6L1586.4,871.4L1585.3,871.4L1585.3,879.2L1584.3,879.2L1584.3,876.5L1583.2,876.5L1583.2,876.5L1582.2,876.5L1582.2,860.9L1581.1,860.9L1581.1,860.9L1580.1,860.9L1580.1,869.8L1579.0,869.8L1579.0,869.8L1578.0,869.8L1578.0,869.8L1576.9,869.8L1576.9,869.8L1575.8,869.8L1575.8,860.2L1574.8,860.2L1574.8,860.2L1573.7,860.2L1573.7,860.2L1572.7,860.2L1572.7,859.1L1571.6,859.1L1571.6,859.1L1570.6,859.1L1570.6,889.5L1569.5,889.5L1569.5,922.4L1568.5,922.4L1568.5,913.0L1567.4,913.0L1567.4,899.2L1566.4,899.2L1566.4,885.3L1565.3,885.3L1565.3,933.1L1564.2,933.1L1564.2,919.3L1563.2,919.3L1563.2,905.5L1562.1,905.5L1562.1,842.6L1561.1,842.6L1561.1,844.0L1560.0,844.0L1560.0,838.0L1559.0,838.0L1559.0,839.4L1557.9,839.4L1557.9,829.2L1556.9,829.2L1556.9,830.6L1555.8,830.6L1555.8,831.9L1554.8,831.9L1554.8,849.0L1553.7,849.0L1553.7,849.0L1552.6,849.0L1552.6,849.0L1551.6,849.0L1551.6,849.0L1550.5,849.0L1550.5,855.8L1549.5,855.8L1549.5,854.3L1548.4,854.3L1548.4,854.3L1547.4,854.3L1547.4,857.2L1546.3,857.2L1546.3,847.7L1545.3,847.7L1545.3,847.7L1544.2,847.7L1544.2,857.3L1543.2,857.3L1543.2,857.3L1542.1,857.3L1542.1,857.3L1541.0,857.3L1541.0,867.4L1540.0,867.4L1540.0,892.6L1538.9,892.6L1538.9,928.1L1537.9,928.1L1537.9,938.2L1536.8,938.2L1536.8,960.7L1535.8,960.7L1535.8,970.9L1534.7,970.9L1534.7,1001.3L1533.7,1001.3L1533.7,979.5L1532.6,979.5L1532.6,963.9L1531.6,963.9L1531.6,964.4L1530.5,964.4L1530.5,964.8L1529.5,964.8L1529.5,992.4L1528.4,992.4L1528.4,992.8L1527.3,992.8L1527.3,998.6L1526.3,998.6L1526.3,999.1L1525.2,999.1L1525.2,999.5L1524.2,999.5L1524.2,1000.0L1523.1,1000.0L1523.1,986.3L1522.1,986.3L1522.1,986.7L1521.0,986.7L1521.0,967.6L1520.0,967.6L1520.0,970.4L1518.9,970.4L1518.9,973.2L1517.9,973.2L1517.9,975.9L1516.8,975.9L1516.8,996.4L1515.7,996.4L1515.7,999.2L1514.7,999.2L1514.7,1001.9L1513.6,1001.9L1513.6,1005.0L1512.6,1005.0L1512.6,1023.7L1511.5,1023.7L1511.5,1027.9L1510.5,1027.9L1510.5,1044.2L1509.4,1044.2L1509.4,1044.7L1508.4,1044.7L1508.4,1045.1L1507.3,1045.1L1507.3,1045.6L1506.3,1045.6L1506.3,1038.9L1505.2,1038.9L1505.2,1039.4L1504.1,1039.4L1504.1,1039.8L1503.1,1039.8L1503.1,1030.7L1502.0,1030.7L1502.0,1042.8L1501.0,1042.8L1501.0,1043.3L1499.9,1043.3L1499.9,1043.7L1498.9,1043.7L1498.9,1044.2L1497.8,1044.2L1497.8,1001.0L1496.8,1001.0L1496.8,1023.1L1495.7,1023.1L1495.7,1045.2L1494.7,1045.2L1494.7,1045.6L1493.6,1045.6L1493.6,1072.3L1492.5,1072.3L1492.5,1072.8L1491.5,1072.8L1491.5,1072.8L1490.4,1072.8L1490.4,1072.8L1489.4,1072.8L1489.4,1069.5L1488.3,1069.5L1488.3,1065.0L1487.3,1065.0L1487.3,1065.5L1486.2,1065.5L1486.2,1066.0L1485.2,1066.0L1485.2,1070.0L1484.1,1070.0L1484.1,1070.5L1483.1,1070.5L1483.1,1072.8L1482.0,1072.8L1482.0,1072.8L1480.9,1072.8L1480.9,1072.8L1479.9,1072.8L1479.9,1072.8L1478.8,1072.8L1478.8,1072.8L1477.8,1072.8L1477.8,1072.8L1476.7,1072.8L1476.7,1072.8L1475.7,1072.8L1475.7,1072.8L1474.6,1072.8L1474.6,1072.8L1473.6,1072.8L1473.6,1072.8L1472.5,1072.8L1472.5,1072.8L1471.5,1072.8L1471.5,1072.8L1470.4,1072.8L1470.4,1072.8L1469.3,1072.8L1469.3,1072.8L1468.3,1072.8L1468.3,1072.8L1467.2,1072.8L1467.2,1072.8L1466.2,1072.8L1466.2,1072.8L1465.1,1072.8L1465.1,1072.8L1464.1,1072.8L1464.1,1072.8L1463.0,1072.8L1463.0,1072.8L1462.0,1072.8L1462.0,1072.8L1460.9,1072.8L1460.9,1072.8L1459.9,1072.8L1459.9,1072.8L1458.8,1072.8L1458.8,1072.8L1457.7,1072.8L1457.7,1072.8L1456.7,1072.8L1456.7,1072.8L1455.6,1072.8L1455.6,1072.8L1454.6,1072.8L1454.6,1072.8L1453.5,1072.8L1453.5,1072.8L1452.5,1072.8L1452.5,1072.8L1451.4,1072.8L1451.4,1072.8L1450.4,1072.8L1450.4,1072.8L1449.3,1072.8L1449.3,1072.8L1448.3,1072.8L1448.3,1072.8L1447.2,1072.8L1447.2,1072.8L1446.1,1072.8L1446.1,1072.8L1445.1,1072.8L1445.1,1072.8L1444.0,1072.8L1444.0,1072.8L1443.0,1072.8L1443.0,1072.8L1441.9,1072.8L1441.9,1072.8L1440.9,1072.8L1440.9,1072.8L1439.8,1072.8L1439.8,1072.8L1438.8,1072.8L1438.8,1072.8L1437.7,1072.8L1437.7,1072.8L1436.7,1072.8L1436.7,1072.8L1435.6,1072.8Z" fill="#0000ff" stroke="#0000ff" stroke-width="9" stroke-linejoin="miter"/>
<path d="M1435.6,886.0L1436.7,886.0L1436.7,886.1L1437.7,886.1L1437.7,883.3L1438.8,883.3L1438.8,883.4L1439.8,883.4L1439.8,883.4L1440.9,883.4L1440.9,871.9L1441.9,871.9L1441.9,872.0L1443.0,872.0L1443.0,872.0L1444.0,872.0L1444.0,851.1L1445.1,851.1L1445.1,851.1L1446.1,851.1L1446.1,851.2L1447.2,851.2L1447.2,857.0L1448.3,857.0L1448.3,857.1L1449.3,857.1L1449.3,856.9L1450.4,856.9L1450.4,856.2L1451.4,856.2L1451.4,856.1L1452.5,856.1L1452.5,855.9L1453.5,855.9L1453.5,855.8L1454.6,855.8L1454.6,847.7L1455.6,847.7L1455.6,847.6L1456.7,847.6L1456.7,864.9L1457.7,864.9L1457.7,846.1L1458.8,846.1L1458.8,846.3L1459.9,846.3L1459.9,846.4L1460.9,846.4L1460.9,845.1L1462.0,845.1L1462.0,859.6L1463.0,859.6L1463.0,859.7L1464.1,859.7L1464.1,859.9L1465.1,859.9L1465.1,870.3L1466.2,870.3L1466.2,855.6L1467.2,855.6L1467.2,852.0L1468.3,852.0L1468.3,852.2L1469.3,852.2L1469.3,876.2L1470.4,876.2L1470.4,876.4L1471.5,876.4L1471.5,876.6L1472.5,876.6L1472.5,868.1L1473.6,868.1L1473.6,868.2L1474.6,868.2L1474.6,867.5L1475.7,867.5L1475.7,871.5L1476.7,871.5L1476.7,870.7L1477.8,870.7L1477.8,869.9L1478.8,869.9L1478.8,841.6L1479.9,841.6L1479.9,841.3L1480.9,841.3L1480.9,862.3L1482.0,862.3L1482.0,862.1L1483.1,862.1L1483.1,862.1L1484.1,862.1L1484.1,862.0L1485.2,862.0L1485.2,866.5L1486.2,866.5L1486.2,871.2L1487.3,871.2L1487.3,871.1L1488.3,871.1L1488.3,871.1L1489.4,871.1L1489.4,863.3L1490.4,863.3L1490.4,865.0L1491.5,865.0L1491.5,865.0L1492.5,865.0L1492.5,860.5L1493.6,860.5L1493.6,860.5L1494.7,860.5L1494.7,860.5L1495.7,860.5L1495.7,859.4L1496.8,859.4L1496.8,853.3L1497.8,853.3L1497.8,853.3L1498.9,853.3L1498.9,853.2L1499.9,853.2L1499.9,853.2L1501.0,853.2L1501.0,866.2L1502.0,866.2L1502.0,866.2L1503.1,866.2L1503.1,841.8L1504.1,841.8L1504.1,841.8L1505.2,841.8L1505.2,841.8L1506.3,841.8L1506.3,875.0L1507.3,875.0L1507.3,873.7L1508.4,873.7L1508.4,853.9L1509.4,853.9L1509.4,853.9L1510.5,853.9L1510.5,853.7L1511.5,853.7L1511.5,853.5L1512.6,853.5L1512.6,877.5L1513.6,877.5L1513.6,877.3L1514.7,877.3L1514.7,877.2L1515.7,877.2L1515.7,877.0L1516.8,877.0L1516.8,868.1L1517.9,868.1L1517.9,855.0L1518.9,855.0L1518.9,854.9L1520.0,854.9L1520.0,854.8L1521.0,854.8L1521.0,854.7L1522.1,854.7L1522.1,855.5L1523.1,855.5L1523.1,835.8L1524.2,835.8L1524.2,835.8L1525.2,835.8L1525.2,835.8L1526.3,835.8L1526.3,835.8L1527.3,835.8L1527.3,840.7L1528.4,840.7L1528.4,840.7L1529.5,840.7L1529.5,840.6L1530.5,840.6L1530.5,833.6L1531.6,833.6L1531.6,833.5L1532.6,833.5L1532.6,833.5L1533.7,833.5L1533.7,832.0L1534.7,832.0L1534.7,858.3L1535.8,858.3L1535.8,857.8L1536.8,857.8L1536.8,857.3L1537.9,857.3L1537.9,856.8L1538.9,856.8L1538.9,831.9L1540.0,831.9L1540.0,831.4L1541.0,831.4L1541.0,830.9L1542.1,830.9L1542.1,842.2L1543.2,842.2L1543.2,849.5L1544.2,849.5L1544.2,849.5L1545.3,849.5L1545.3,849.5L1546.3,849.5L1546.3,829.5L1547.4,829.5L1547.4,829.5L1548.4,829.5L1548.4,829.5L1549.5,829.5L1549.5,829.5L1550.5,829.5L1550.5,846.4L1551.6,846.4L1551.6,846.4L1552.6,846.4L1552.6,858.9L1553.7,858.9L1553.7,855.4L1554.8,855.4L1554.8,855.4L1555.8,855.4L1555.8,848.2L1556.9,848.2L1556.9,832.6L1557.9,832.6L1557.9,832.6L1559.0,832.6L1559.0,832.5L1560.0,832.5L1560.0,832.4L1561.1,832.4L1561.1,865.6L1562.1,865.6L1562.1,850.7L1563.2,850.7L1563.2,851.4L1564.2,851.4L1564.2,851.4L1565.3,851.4L1565.3,852.1L1566.4,852.1L1566.4,852.8L1567.4,852.8L1567.4,853.5L1568.5,853.5L1568.5,871.2L1569.5,871.2L1569.5,869.7L1570.6,869.7L1570.6,868.2L1571.6,868.2L1571.6,868.2L1572.7,868.2L1572.7,862.5L1573.7,862.5L1573.7,862.5L1574.8,862.5L1574.8,862.5L1575.8,862.5L1575.8,856.2L1576.9,856.2L1576.9,856.2L1578.0,856.2L1578.0,856.2L1579.0,856.2L1579.0,822.4L1580.1,822.4L1580.1,822.4L1581.1,822.4L1581.1,846.4L1582.2,846.4L1582.2,848.4L1583.2,848.4L1583.2,848.4L1584.3,848.4L1584.3,856.2L1585.3,856.2L1585.3,856.3L1586.4,856.3L1586.4,856.5L1587.4,856.5L1587.4,856.6L1588.5,856.6L1588.5,849.5L1589.6,849.5L1589.6,849.5L1590.6,849.5L1590.6,865.1L1591.7,865.1L1591.7,865.1L1592.7,865.1L1592.7,865.1L1593.8,865.1L1593.8,852.8L1594.8,852.8L1594.8,852.8L1595.9,852.8L1595.9,852.8L1596.9,852.8L1596.9,867.7L1598.0,867.7L1598.0,869.3L1599.0,869.3L1599.0,867.7L1600.1,867.7L1600.1,847.9L1601.2,847.9L1601.2,847.9L1602.2,847.9L1602.2,847.9L1603.3,847.9L1603.3,847.9L1604.3,847.9L1604.3,840.5L1605.4,840.5L1605.4,840.5L1606.4,840.5L1606.4,840.5L1607.5,840.5L1607.5,845.0L1608.5,845.0L1608.5,855.0L1609.6,855.0L1609.6,855.0L1610.6,855.0L1610.6,855.0L1611.7,855.0L1611.7,858.4L1612.8,858.4L1612.8,858.4L1613.8,858.4L1613.8,859.6L1614.9,859.6L1614.9,860.7L1615.9,860.7L1615.9,850.2L1617.0,850.2L1617.0,847.1L1618.0,847.1L1618.0,847.1L1619.1,847.1L1619.1,847.1L1620.1,847.1L1620.1,847.2L1621.2,847.2L1621.2,849.9L1622.2,849.9L1622.2,850.0L1623.3,850.0L1623.3,850.2L1624.4,850.2L1624.4,850.3L1625.4,850.3L1625.4,850.3L1626.5,850.3L1626.5,864.7L1627.5,864.7L1627.5,864.8L1628.6,864.8L1628.6,865.3L1629.6,865.3L1629.6,865.7L1630.7,865.7L1630.7,849.3L1631.7,849.3L1631.7,868.2L1632.8,868.2L1632.8,870.3L1633.8,870.3L1633.8,870.6L1634.9,870.6L1634.9,870.9L1636.0,870.9L1636.0,871.5L1637.0,871.5L1637.0,871.5L1638.1,871.5L1638.1,844.4L1639.1,844.4L1639.1,831.6L1640.2,831.6L1640.2,831.6L1641.2,831.6L1641.2,869.2L1642.3,869.2L1642.3,869.3L1643.3,869.3L1643.3,858.5L1644.4,858.5L1644.4,861.0L1645.4,861.0L1645.4,861.0L1646.5,861.0L1646.5,861.1L1647.6,861.1L1647.6,861.5L1648.6,861.5L1648.6,860.2L1649.7,860.2L1649.7,860.6L1650.7,860.6L1650.7,861.1L1651.8,861.1L1651.8,866.1L1652.8,866.1L1652.8,866.2L1653.9,866.2L1653.9,866.2L1654.9,866.2L1654.9,866.2L1656.0,866.2L1656.0,883.2L1657.0,883.2L1657.0,883.3L1658.1,883.3L1658.1,878.4L1659.2,878.4L1659.2,878.4L1660.2,878.4L1660.2,878.5L1661.3,878.5L1661.3,848.3L1662.3,848.3L1662.3,864.1L1663.4,864.1L1663.4,864.1L1664.4,864.1L1664.4,864.5L1665.5,864.5L1665.5,866.9L1666.5,866.9L1666.5,867.3L1667.6,867.3L1667.6,867.7L1668.6,867.7L1668.6,860.6L1669.7,860.6L1669.7,860.6L1670.8,860.6L1670.8,886.1L1671.8,886.1L1671.8,866.0L1672.9,866.0L1672.9,866.0L1673.9,866.0L1673.9,866.0L1675.0,866.0L1675.0,866.0L1676.0,866.0L1676.0,873.7L1677.1,873.7L1677.1,873.1L1678.1,873.1L1678.1,872.5L1679.2,872.5L1679.2,868.6L1680.2,868.6L1680.2,868.0L1681.3,868.0L1681.3,868.2L1682.4,868.2L1682.4,868.5L1683.4,868.5L1683.4,869.2L1684.5,869.2L1684.5,870.5L1685.5,870.5L1685.5,870.7L1686.6,870.7L1686.6,849.3L1687.6,849.3L1687.6,848.0L1688.7,848.0L1688.7,849.1L1689.7,849.1L1689.7,849.1L1690.8,849.1L1690.8,849.1L1691.8,849.1L1691.8,864.6L1692.9,864.6L1692.9,864.6L1694.0,864.6L1694.0,864.6L1695.0,864.6L1695.0,844.0L1696.1,844.0L1696.1,844.0L1697.1,844.0L1697.1,844.0L1698.2,844.0L1698.2,844.0L1699.2,844.0L1699.2,854.1L1700.3,854.1L1700.3,854.1L1701.3,854.1L1701.3,854.1L1702.4,854.1L1702.4,854.1L1703.4,854.1L1703.4,851.5L1704.5,851.5L1704.5,851.5L1705.6,851.5L1705.6,851.5L1706.6,851.5L1706.6,852.3L1707.7,852.3L1707.7,857.0L1708.7,857.0L1708.7,857.8L1709.8,857.8L1709.8,869.7L1710.8,869.7L1710.8,861.7L1711.9,861.7L1711.9,861.7L1712.9,861.7L1712.9,861.7L1714.0,861.7L1714.0,854.6L1715.0,854.6L1715.0,854.6L1716.1,854.6L1716.1,883.5L1717.2,883.5L1717.2,883.5L1718.2,883.5L1718.2,883.5L1719.3,883.5L1719.3,873.8L1720.3,873.8L1720.3,873.8L1721.4,873.8L1721.4,872.7L1722.4,872.7L1722.4,872.7L1723.5,872.7L1723.5,870.3L1724.5,870.3L1724.5,870.2L1725.6,870.2L1725.6,870.0L1726.6,870.0L1726.6,862.8L1727.7,862.8L1727.7,862.7L1728.8,862.7L1728.8,862.5L1729.8,862.5L1729.8,848.0L1730.9,848.0L1730.9,847.8L1731.9,847.8L1731.9,846.9L1733.0,846.9L1733.0,845.9L1734.0,845.9L1734.0,868.0L1735.1,868.0L1735.1,867.0L1736.1,867.0L1736.1,867.0L1737.2,867.0L1737.2,858.3L1738.2,858.3L1738.2,858.3L1739.3,858.3L1739.3,858.3L1740.4,858.3L1740.4,864.8L1741.4,864.8L1741.4,864.8L1742.5,864.8L1742.5,875.6L1743.5,875.6L1743.5,875.6L1744.6,875.6L1744.6,866.7L1745.6,866.7L1745.6,866.7L1746.7,866.7L1746.7,866.7L1747.7,866.7L1747.7,866.7L1748.8,866.7L1748.8,886.1L1749.8,886.1L1749.8,886.0L1750.9,886.0L1750.9,895.2L1752.0,895.2L1752.0,895.1L1753.0,895.1L1753.0,895.1L1754.1,895.1L1754.1,869.9L1755.1,869.9L1755.1,872.8L1756.2,872.8L1756.2,872.4L1757.2,872.4L1757.2,853.6L1758.3,853.6L1758.3,855.8L1759.3,855.8L1759.3,855.7L1760.4,855.7L1760.4,861.4L1761.4,861.4L1761.4,861.3L1762.5,861.3L1762.5,861.2L1763.5,861.2L1763.5,867.9L1764.6,867.9L1764.6,867.8L1765.7,867.8L1765.7,867.7L1766.7,867.7L1766.7,867.6L1767.8,867.6L1767.8,854.7L1768.8,854.7L1768.8,856.3L1769.9,856.3L1769.9,866.4L1770.9,866.4L1770.9,866.3L1772.0,866.3L1772.0,866.2L1773.0,866.2L1773.0,866.2L1774.1,866.2L1774.1,852.7L1775.1,852.7L1775.1,852.4L1776.2,852.4L1776.2,855.2L1777.3,855.2L1777.3,854.9L1778.3,854.9L1778.3,854.6L1779.4,854.6L1779.4,844.7L1780.4,844.7L1780.4,844.4L1781.5,844.4L1781.5,844.1L1782.5,844.1L1782.5,856.5L1783.6,856.5L1783.6,856.2L1784.6,856.2L1784.6,864.8L1785.7,864.8L1785.7,867.6L1786.7,867.6L1786.7,850.7L1787.8,850.7L1787.8,850.7L1788.9,850.7L1788.9,850.7L1789.9,850.7L1789.9,850.7L1791.0,850.7L1791.0,859.3L1792.0,859.3L1792.0,859.3L1793.1,859.3L1793.1,846.4L1794.1,846.4L1794.1,846.4L1795.2,846.4L1795.2,835.8L1796.2,835.8L1796.2,835.8L1797.3,835.8L1797.3,830.0L1798.3,830.0L1798.3,827.7L1799.4,827.7L1799.4,837.1L1800.5,837.1L1800.5,837.1L1801.5,837.1L1801.5,837.1L1802.6,837.1L1802.6,837.1L1803.6,837.1L1803.6,828.5L1804.7,828.5L1804.7,828.5L1805.7,828.5L1805.7,850.5L1806.8,850.5L1806.8,850.5L1807.8,850.5L1807.8,850.5L1808.9,850.5L1808.9,850.5L1809.9,850.5L1809.9,857.2L1811.0,857.2L1811.0,857.2L1812.1,857.2L1812.1,878.6L1813.1,878.6L1813.1,879.8L1814.2,879.8L1814.2,880.9L1815.2,880.9L1815.2,856.9L1816.3,856.9L1816.3,861.0L1817.3,861.0L1817.3,861.0L1818.4,861.0L1818.4,866.5L1819.4,866.5L1819.4,866.5L1820.5,866.5L1820.5,864.0L1821.5,864.0L1821.5,836.9L1822.6,836.9L1822.6,836.9L1823.7,836.9L1823.7,836.9L1824.7,836.9L1824.7,859.9L1825.8,859.9L1825.8,845.9L1826.8,845.9L1826.8,845.9L1827.9,845.9L1827.9,845.9L1828.9,845.9L1828.9,861.6L1830.0,861.6L1830.0,861.6L1831.0,861.6L1831.0,861.6L1832.1,861.6L1832.1,840.9L1833.1,840.9L1833.1,841.4L1834.2,841.4L1834.2,853.1L1835.3,853.1L1835.3,853.6L1836.3,853.6L1836.3,854.1L1837.4,854.1L1837.4,854.1L1838.4,854.1L1838.4,831.5L1839.5,831.5L1839.5,831.5L1840.5,831.5L1840.5,831.5L1841.6,831.5L1841.6,831.3L1842.6,831.3L1842.6,834.7L1843.7,834.7L1843.7,834.5L1844.7,834.5L1844.7,834.3L1845.8,834.3L1845.8,841.6L1846.9,841.6L1846.9,841.6L1847.9,841.6L1847.9,860.3L1849.0,860.3L1849.0,844.3L1850.0,844.3L1850.0,844.3L1851.1,844.3L1851.1,844.3L1852.1,844.3L1852.1,844.3L1853.2,844.3L1853.2,849.0L1854.2,849.0L1854.2,847.5L1855.3,847.5L1855.3,847.5L1856.3,847.5L1856.3,847.5L1857.4,847.5L1857.4,847.5L1857.4,847.5L1857.4,990.9L1857.4,990.9L1857.4,990.9L1856.3,990.9L1856.3,987.7L1855.3,987.7L1855.3,987.7L1854.2,987.7L1854.2,987.7L1853.2,987.7L1853.2,987.7L1852.1,987.7L1852.1,989.0L1851.1,989.0L1851.1,989.0L1850.0,989.0L1850.0,989.0L1849.0,989.0L1849.0,996.2L1847.9,996.2L1847.9,1000.7L1846.9,1000.7L1846.9,1000.7L1845.8,1000.7L1845.8,1000.7L1844.7,1000.7L1844.7,1000.9L1843.7,1000.9L1843.7,997.8L1842.6,997.8L1842.6,998.0L1841.6,998.0L1841.6,995.3L1840.5,995.3L1840.5,995.3L1839.5,995.3L1839.5,989.4L1838.4,989.4L1838.4,989.4L1837.4,989.4L1837.4,989.4L1836.3,989.4L1836.3,973.1L1835.3,973.1L1835.3,972.6L1834.2,972.6L1834.2,1009.3L1833.1,1009.3L1833.1,1008.8L1832.1,1008.8L1832.1,1008.8L1831.0,1008.8L1831.0,1010.6L1830.0,1010.6L1830.0,1010.6L1828.9,1010.6L1828.9,1010.6L1827.9,1010.6L1827.9,994.5L1826.8,994.5L1826.8,994.5L1825.8,994.5L1825.8,994.5L1824.7,994.5L1824.7,994.5L1823.7,994.5L1823.7,988.6L1822.6,988.6L1822.6,988.6L1821.5,988.6L1821.5,991.1L1820.5,991.1L1820.5,977.8L1819.4,977.8L1819.4,977.8L1818.4,977.8L1818.4,991.5L1817.3,991.5L1817.3,991.5L1816.3,991.5L1816.3,989.3L1815.2,989.3L1815.2,988.1L1814.2,988.1L1814.2,991.0L1813.1,991.0L1813.1,989.8L1812.1,989.8L1812.1,975.4L1811.0,975.4L1811.0,975.4L1809.9,975.4L1809.9,975.4L1808.9,975.4L1808.9,975.4L1807.8,975.4L1807.8,988.1L1806.8,988.1L1806.8,988.1L1805.7,988.1L1805.7,988.1L1804.7,988.1L1804.7,989.2L1803.6,989.2L1803.6,989.2L1802.6,989.2L1802.6,993.9L1801.5,993.9L1801.5,993.9L1800.5,993.9L1800.5,993.9L1799.4,993.9L1799.4,980.2L1798.3,980.2L1798.3,1002.7L1797.3,1002.7L1797.3,1005.0L1796.2,1005.0L1796.2,1005.0L1795.2,1005.0L1795.2,989.2L1794.1,989.2L1794.1,989.2L1793.1,989.2L1793.1,989.2L1792.0,989.2L1792.0,989.2L1791.0,989.2L1791.0,990.4L1789.9,990.4L1789.9,982.5L1788.9,982.5L1788.9,982.5L1787.8,982.5L1787.8,982.5L1786.7,982.5L1786.7,1011.7L1785.7,1011.7L1785.7,1012.0L1784.6,1012.0L1784.6,1012.3L1783.6,1012.3L1783.6,1012.6L1782.5,1012.6L1782.5,997.7L1781.5,997.7L1781.5,998.0L1780.4,998.0L1780.4,998.2L1779.4,998.2L1779.4,994.0L1778.3,994.0L1778.3,994.3L1777.3,994.3L1777.3,974.8L1776.2,974.8L1776.2,975.0L1775.1,975.0L1775.1,975.3L1774.1,975.3L1774.1,987.2L1773.0,987.2L1773.0,987.2L1772.0,987.2L1772.0,987.3L1770.9,987.3L1770.9,1003.3L1769.9,1003.3L1769.9,1003.3L1768.8,1003.3L1768.8,981.7L1767.8,981.7L1767.8,981.8L1766.7,981.8L1766.7,1002.0L1765.7,1002.0L1765.7,1002.1L1764.6,1002.1L1764.6,1002.2L1763.5,1002.2L1763.5,1002.3L1762.5,1002.3L1762.5,987.0L1761.4,987.0L1761.4,987.1L1760.4,987.1L1760.4,980.3L1759.3,980.3L1759.3,980.4L1758.3,980.4L1758.3,980.7L1757.2,980.7L1757.2,981.0L1756.2,981.0L1756.2,971.1L1755.1,971.1L1755.1,971.4L1754.1,971.4L1754.1,986.3L1753.0,986.3L1753.0,986.4L1752.0,986.4L1752.0,995.5L1750.9,995.5L1750.9,995.6L1749.8,995.6L1749.8,987.2L1748.8,987.2L1748.8,994.3L1747.7,994.3L1747.7,994.3L1746.7,994.3L1746.7,994.3L1745.6,994.3L1745.6,991.8L1744.6,991.8L1744.6,991.8L1743.5,991.8L1743.5,991.8L1742.5,991.8L1742.5,991.8L1741.4,991.8L1741.4,1001.1L1740.4,1001.1L1740.4,1001.1L1739.3,1001.1L1739.3,1001.1L1738.2,1001.1L1738.2,1001.1L1737.2,1001.1L1737.2,994.8L1736.1,994.8L1736.1,972.7L1735.1,972.7L1735.1,973.7L1734.0,973.7L1734.0,974.6L1733.0,974.6L1733.0,975.6L1731.9,975.6L1731.9,999.0L1730.9,999.0L1730.9,999.1L1729.8,999.1L1729.8,999.3L1728.8,999.3L1728.8,995.5L1727.7,995.5L1727.7,995.6L1726.6,995.6L1726.6,995.8L1725.6,995.8L1725.6,1010.4L1724.5,1010.4L1724.5,1010.5L1723.5,1010.5L1723.5,1010.7L1722.4,1010.7L1722.4,979.2L1721.4,979.2L1721.4,979.2L1720.3,979.2L1720.3,979.2L1719.3,979.2L1719.3,979.2L1718.2,979.2L1718.2,1020.0L1717.2,1020.0L1717.2,1020.0L1716.1,1020.0L1716.1,1020.0L1715.0,1020.0L1715.0,1000.7L1714.0,1000.7L1714.0,1000.7L1712.9,1000.7L1712.9,1015.2L1711.9,1015.2L1711.9,1015.2L1710.8,1015.2L1710.8,1015.9L1709.8,1015.9L1709.8,1015.2L1708.7,1015.2L1708.7,1014.4L1707.7,1014.4L1707.7,1013.6L1706.6,1013.6L1706.6,1023.3L1705.6,1023.3L1705.6,1029.3L1704.5,1029.3L1704.5,1029.3L1703.4,1029.3L1703.4,1010.8L1702.4,1010.8L1702.4,1010.8L1701.3,1010.8L1701.3,1007.5L1700.3,1007.5L1700.3,1007.5L1699.2,1007.5L1699.2,1007.5L1698.2,1007.5L1698.2,1007.5L1697.1,1007.5L1697.1,1032.3L1696.1,1032.3L1696.1,1032.3L1695.0,1032.3L1695.0,1032.3L1694.0,1032.3L1694.0,1001.0L1692.9,1001.0L1692.9,1001.0L1691.8,1001.0L1691.8,1016.9L1690.8,1016.9L1690.8,1016.9L1689.7,1016.9L1689.7,1016.9L1688.7,1016.9L1688.7,1006.7L1687.6,1006.7L1687.6,1006.4L1686.6,1006.4L1686.6,995.9L1685.5,995.9L1685.5,1004.8L1684.5,1004.8L1684.5,1004.5L1683.4,1004.5L1683.4,988.4L1682.4,988.4L1682.4,988.2L1681.3,988.2L1681.3,999.4L1680.2,999.4L1680.2,1000.1L1679.2,1000.1L1679.2,978.3L1678.1,978.3L1678.1,987.6L1677.1,987.6L1677.1,988.2L1676.0,988.2L1676.0,988.2L1675.0,988.2L1675.0,982.1L1673.9,982.1L1673.9,1003.7L1672.9,1003.7L1672.9,995.6L1671.8,995.6L1671.8,995.6L1670.8,995.6L1670.8,995.6L1669.7,995.6L1669.7,995.6L1668.6,995.6L1668.6,1005.9L1667.6,1005.9L1667.6,1005.5L1666.5,1005.5L1666.5,1003.6L1665.5,1003.6L1665.5,1003.2L1664.4,1003.2L1664.4,1002.8L1663.4,1002.8L1663.4,1002.7L1662.3,1002.7L1662.3,986.7L1661.3,986.7L1661.3,986.6L1660.2,986.6L1660.2,986.6L1659.2,986.6L1659.2,1020.1L1658.1,1020.1L1658.1,1020.0L1657.0,1020.0L1657.0,1020.0L1656.0,1020.0L1656.0,1000.3L1654.9,1000.3L1654.9,1000.3L1653.9,1000.3L1653.9,1000.3L1652.8,1000.3L1652.8,1009.6L1651.8,1009.6L1651.8,1007.8L1650.7,1007.8L1650.7,1007.4L1649.7,1007.4L1649.7,999.5L1648.6,999.5L1648.6,1003.4L1647.6,1003.4L1647.6,1003.0L1646.5,1003.0L1646.5,1003.0L1645.4,1003.0L1645.4,1002.9L1644.4,1002.9L1644.4,1016.4L1643.3,1016.4L1643.3,1016.4L1642.3,1016.4L1642.3,1016.4L1641.2,1016.4L1641.2,1002.4L1640.2,1002.4L1640.2,1002.4L1639.1,1002.4L1639.1,1002.4L1638.1,1002.4L1638.1,1002.4L1637.0,1002.4L1637.0,1005.4L1636.0,1005.4L1636.0,1005.1L1634.9,1005.1L1634.9,1004.8L1633.8,1004.8L1633.8,1004.5L1632.8,1004.5L1632.8,988.1L1631.7,988.1L1631.7,987.6L1630.7,987.6L1630.7,987.1L1629.6,987.1L1629.6,1009.0L1628.6,1009.0L1628.6,998.0L1627.5,998.0L1627.5,998.0L1626.5,998.0L1626.5,1008.2L1625.4,1008.2L1625.4,1008.2L1624.4,1008.2L1624.4,1008.1L1623.3,1008.1L1623.3,1004.1L1622.2,1004.1L1622.2,1004.1L1621.2,1004.1L1621.2,1004.1L1620.1,1004.1L1620.1,1004.0L1619.1,1004.0L1619.1,1009.9L1618.0,1009.9L1618.0,1009.9L1617.0,1009.9L1617.0,1008.7L1615.9,1008.7L1615.9,1007.5L1614.9,1007.5L1614.9,967.6L1613.8,967.6L1613.8,966.4L1612.8,966.4L1612.8,966.4L1611.7,966.4L1611.7,966.4L1610.6,966.4L1610.6,995.6L1609.6,995.6L1609.6,995.6L1608.5,995.6L1608.5,995.6L1607.5,995.6L1607.5,995.6L1606.4,995.6L1606.4,1004.0L1605.4,1004.0L1605.4,1004.0L1604.3,1004.0L1604.3,1004.0L1603.3,1004.0L1603.3,1004.0L1602.2,1004.0L1602.2,993.7L1601.2,993.7L1601.2,993.7L1600.1,993.7L1600.1,995.2L1599.0,995.2L1599.0,996.7L1598.0,996.7L1598.0,993.6L1596.9,993.6L1596.9,992.1L1595.9,992.1L1595.9,997.8L1594.8,997.8L1594.8,1000.8L1593.8,1000.8L1593.8,978.8L1592.7,978.8L1592.7,978.8L1591.7,978.8L1591.7,978.8L1590.6,978.8L1590.6,978.8L1589.6,978.8L1589.6,987.9L1588.5,987.9L1588.5,987.9L1587.4,987.9L1587.4,987.7L1586.4,987.7L1586.4,987.6L1585.3,987.6L1585.3,982.5L1584.3,982.5L1584.3,986.5L1583.2,986.5L1583.2,986.5L1582.2,986.5L1582.2,986.5L1581.1,986.5L1581.1,1016.5L1580.1,1016.5L1580.1,1016.5L1579.0,1016.5L1579.0,1016.5L1578.0,1016.5L1578.0,996.1L1576.9,996.1L1576.9,996.1L1575.8,996.1L1575.8,1009.3L1574.8,1009.3L1574.8,1009.3L1573.7,1009.3L1573.7,1009.3L1572.7,1009.3L1572.7,999.0L1571.6,999.0L1571.6,999.0L1570.6,999.0L1570.6,1000.5L1569.5,1000.5L1569.5,1002.0L1568.5,1002.0L1568.5,1004.4L1567.4,1004.4L1567.4,1003.7L1566.4,1003.7L1566.4,1007.6L1565.3,1007.6L1565.3,1006.9L1564.2,1006.9L1564.2,1006.2L1563.2,1006.2L1563.2,985.8L1562.1,985.8L1562.1,1001.6L1561.1,1001.6L1561.1,1001.6L1560.0,1001.6L1560.0,1001.7L1559.0,1001.7L1559.0,1001.3L1557.9,1001.3L1557.9,995.3L1556.9,995.3L1556.9,995.4L1555.8,995.4L1555.8,995.5L1554.8,995.5L1554.8,995.5L1553.7,995.5L1553.7,974.2L1552.6,974.2L1552.6,989.0L1551.6,989.0L1551.6,989.0L1550.5,989.0L1550.5,989.0L1549.5,989.0L1549.5,1029.3L1548.4,1029.3L1548.4,982.3L1547.4,982.3L1547.4,982.3L1546.3,982.3L1546.3,982.3L1545.3,982.3L1545.3,982.6L1544.2,982.6L1544.2,982.6L1543.2,982.6L1543.2,982.6L1542.1,982.6L1542.1,982.6L1541.0,982.6L1541.0,980.7L1540.0,980.7L1540.0,981.2L1538.9,981.2L1538.9,984.0L1537.9,984.0L1537.9,984.5L1536.8,984.5L1536.8,985.0L1535.8,985.0L1535.8,1000.5L1534.7,1000.5L1534.7,1002.0L1533.7,1002.0L1533.7,1003.5L1532.6,1003.5L1532.6,1003.5L1531.6,1003.5L1531.6,980.3L1530.5,980.3L1530.5,980.3L1529.5,980.3L1529.5,980.4L1528.4,980.4L1528.4,980.4L1527.3,980.4L1527.3,978.7L1526.3,978.7L1526.3,984.8L1525.2,984.8L1525.2,984.9L1524.2,984.9L1524.2,982.5L1523.1,982.5L1523.1,986.3L1522.1,986.3L1522.1,986.3L1521.0,986.3L1521.0,986.4L1520.0,986.4L1520.0,1006.3L1518.9,1006.3L1518.9,977.8L1517.9,977.8L1517.9,978.0L1516.8,978.0L1516.8,978.1L1515.7,978.1L1515.7,973.7L1514.7,973.7L1514.7,973.8L1513.6,973.8L1513.6,974.1L1512.6,974.1L1512.6,1012.8L1511.5,1012.8L1511.5,1013.0L1510.5,1013.0L1510.5,1017.8L1509.4,1017.8L1509.4,1029.0L1508.4,1029.0L1508.4,1029.0L1507.3,1029.0L1507.3,1029.0L1506.3,1029.0L1506.3,999.4L1505.2,999.4L1505.2,999.5L1504.1,999.5L1504.1,1004.9L1503.1,1004.9L1503.1,1001.8L1502.0,1001.8L1502.0,1001.8L1501.0,1001.8L1501.0,1001.8L1499.9,1001.8L1499.9,1001.8L1498.9,1001.8L1498.9,1003.4L1497.8,1003.4L1497.8,1003.4L1496.8,1003.4L1496.8,976.8L1495.7,976.8L1495.7,997.2L1494.7,997.2L1494.7,997.2L1493.6,997.2L1493.6,997.2L1492.5,997.2L1492.5,997.3L1491.5,997.3L1491.5,1030.9L1490.4,1030.9L1490.4,1017.1L1489.4,1017.1L1489.4,1017.1L1488.3,1017.1L1488.3,982.5L1487.3,982.5L1487.3,982.5L1486.2,982.5L1486.2,998.4L1485.2,998.4L1485.2,998.4L1484.1,998.4L1484.1,998.5L1483.1,998.5L1483.1,982.0L1482.0,982.0L1482.0,982.2L1480.9,982.2L1480.9,982.4L1479.9,982.4L1479.9,982.6L1478.8,982.6L1478.8,1006.2L1477.8,1006.2L1477.8,1006.9L1476.7,1006.9L1476.7,1004.5L1475.7,1004.5L1475.7,1015.2L1474.6,1015.2L1474.6,1015.9L1473.6,1015.9L1473.6,1002.1L1472.5,1002.1L1472.5,1001.9L1471.5,1001.9L1471.5,1020.4L1470.4,1020.4L1470.4,995.9L1469.3,995.9L1469.3,995.7L1468.3,995.7L1468.3,994.4L1467.2,994.4L1467.2,994.3L1466.2,994.3L1466.2,994.1L1465.1,994.1L1465.1,990.4L1464.1,990.4L1464.1,1003.3L1463.0,1003.3L1463.0,1003.1L1462.0,1003.1L1462.0,1002.9L1460.9,1002.9L1460.9,1002.8L1459.9,1002.8L1459.9,1019.5L1458.8,1019.5L1458.8,1019.3L1457.7,1019.3L1457.7,1019.1L1456.7,1019.1L1456.7,1003.4L1455.6,1003.4L1455.6,1003.5L1454.6,1003.5L1454.6,1003.7L1453.5,1003.7L1453.5,1003.8L1452.5,1003.8L1452.5,1002.6L1451.4,1002.6L1451.4,1007.3L1450.4,1007.3L1450.4,986.8L1449.3,986.8L1449.3,1013.0L1448.3,1013.0L1448.3,1013.0L1447.2,1013.0L1447.2,1012.9L1446.1,1012.9L1446.1,1013.7L1445.1,1013.7L1445.1,1009.0L1444.0,1009.0L1444.0,1008.9L1443.0,1008.9L1443.0,1008.9L1441.9,1008.9L1441.9,1008.8L1440.9,1008.8L1440.9,1016.0L1439.8,1016.0L1439.8,988.7L1438.8,988.7L1438.8,988.6L1437.7,988.6L1437.7,988.6L1436.7,988.6L1436.7,987.8L1435.6,987.8Z" fill="#ff0000" stroke="#ff0000" stroke-width="9" stroke-linejoin="miter"/>
</g>
<line x1="1433.6" y1="786.4" x2="1859.4" y2="786.4" stroke="#888888" stroke-width="6"/>
<line x1="1433.6" y1="1062.8" x2="1859.4" y2="1062.8" stroke="#888888" stroke-width="6"/>
<line x1="1435.6" y1="786.4" x2="1435.6" y2="1065.8" stroke="#262626" stroke-width="3.5"/>
<line x1="1857.4" y1="786.4" x2="1857.4" y2="1065.8" stroke="#262626" stroke-width="3.5"/>
<line x1="1646.5" y1="786.4" x2="1646.5" y2="792.4" stroke="#333" stroke-width="4"/>
<line x1="1646.5" y1="1062.8" x2="1646.5" y2="1056.8" stroke="#333" stroke-width="4"/>
<line x1="1435.6" y1="924.6" x2="1442.6" y2="924.6" stroke="#333" stroke-width="4"/>
<line x1="1857.4" y1="924.6" x2="1850.4" y2="924.6" stroke="#333" stroke-width="4"/>
<text transform="translate(1314.13 813.33) scale(0.9718 1)" font-size="67.28" fill="#262626">2.5</text>
<text transform="translate(1373.97 950.25) scale(0.9706 1)" font-size="65.16" fill="#262626">0</text>
<text transform="translate(1294.31 1088.55) scale(0.9860 1)" font-size="65.16" fill="#262626">-2.5</text>
<text transform="translate(1414.25 1152.06) scale(0.9954 1)" font-size="64.09" fill="#262626">5</text>
<text transform="translate(1606.52 1152.07) scale(1.0298 1)" font-size="63.18" fill="#262626">10</text>
<text transform="translate(1819.81 1152.06) scale(1.0178 1)" font-size="64.09" fill="#262626">15</text>
<text transform="translate(1436.80 779.78) scale(1.0000 1)" font-size="77.08" fill="#6a6a6a" stroke="#ffffff" stroke-width="2.2">×</text>
<text transform="translate(1487.14 768.63) scale(0.9238 1)" font-size="67.28" fill="#262626">10</text>
<text transform="translate(1556.81 738.24) scale(1.1585 1)" font-size="51.61" fill="#262626">-</text>
<text transform="translate(1576.48 735.57) scale(0.9135 1)" font-size="53.00" fill="#262626">3</text>
<text transform="translate(833.67 84.80) scale(0.9835 1)" font-size="86.00" font-weight="bold" fill="#000000">Velocity Response</text>
<text transform="translate(176.59 141.53) scale(0.9477 1)" font-size="76.89" fill="#262626">0.05</text>
<text transform="translate(280.89 364.23) scale(0.9796 1)" font-size="76.75" fill="#262626">0</text>
<text transform="translate(149.87 586.73) scale(0.9639 1)" font-size="76.75" fill="#262626">-0.05</text>
<text transform="translate(190.35 812.24) scale(0.9249 1)" font-size="75.62" fill="#262626">-0.1</text>
<text transform="translate(149.82 1034.95) scale(0.9941 1)" font-size="75.48" fill="#262626">-0.15</text>
<text transform="translate(190.09 1257.84) scale(1.0016 1)" font-size="75.76" fill="#262626">-0.2</text>
<text transform="translate(149.47 1480.04) scale(0.9717 1)" font-size="76.18" fill="#262626">-0.25</text>
<text transform="translate(332.09 1554.54) scale(0.9539 1)" font-size="76.18" fill="#262626">0</text>
<text transform="translate(896.42 1554.61) scale(1.0431 1)" font-size="78.71" fill="#262626">5</text>
<text transform="translate(1445.03 1554.53) scale(0.9496 1)" font-size="76.75" fill="#262626">10</text>
<text transform="translate(2011.94 1554.13) scale(0.9670 1)" font-size="76.70" fill="#262626">15</text>
<text transform="translate(1061.23 1669.41) scale(1.0527 1)" font-size="83.32" fill="#262626">Time(s)</text>
<text transform="rotate(-90) translate(-934.97 81.50) scale(0.8991 1)" font-size="86.64" fill="#262626">x</text>
<text transform="rotate(-90) translate(-890.78 122.30) scale(0.9313 1)" font-size="72.69" fill="#262626">2</text>
<text transform="rotate(-90) translate(-823.85 80.71) scale(0.9476 1)" font-size="85.25" fill="#262626">(m/s)</text>
</svg>
</body></html>
